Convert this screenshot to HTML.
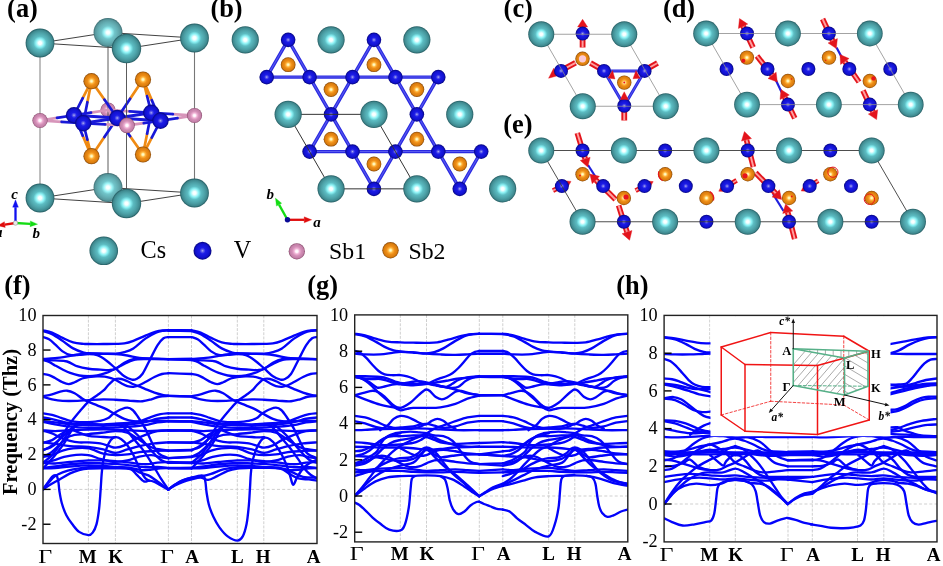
<!DOCTYPE html>
<html><head><meta charset="utf-8"><title>Figure</title>
<style>html,body{margin:0;padding:0;background:#fff}svg{display:block;will-change:transform}text{font-family:"Liberation Serif",serif;fill:#000}</style></head><body>
<svg width="943" height="566" viewBox="0 0 943 566">
<rect width="943" height="566" fill="#fff"/>

<defs>
<radialGradient id="gCs" cx="50%" cy="50%" r="50%" fx="50%" fy="50%">
<stop offset="0" stop-color="#ffffff"/><stop offset="0.11" stop-color="#f6ffff"/>
<stop offset="0.29" stop-color="#8cf2f5"/><stop offset="0.46" stop-color="#5cbcc2"/>
<stop offset="0.72" stop-color="#4ca0a6"/><stop offset="0.89" stop-color="#3f898f"/><stop offset="1" stop-color="#235a60"/>
</radialGradient>
<radialGradient id="gV" cx="50%" cy="50%" r="50%">
<stop offset="0" stop-color="#b4b4f0"/><stop offset="0.14" stop-color="#6262ea"/>
<stop offset="0.34" stop-color="#1c1ce6"/><stop offset="0.76" stop-color="#1111d0"/>
<stop offset="1" stop-color="#06067c"/>
</radialGradient>
<radialGradient id="gS1" cx="50%" cy="50%" r="50%">
<stop offset="0" stop-color="#ffffff"/><stop offset="0.16" stop-color="#fff4fb"/>
<stop offset="0.34" stop-color="#f0b2d5"/><stop offset="0.56" stop-color="#d490b8"/>
<stop offset="0.85" stop-color="#c27fa7"/><stop offset="1" stop-color="#834466"/>
</radialGradient>
<radialGradient id="gS2" cx="50%" cy="50%" r="50%">
<stop offset="0" stop-color="#fffce4"/><stop offset="0.14" stop-color="#fff0a6"/>
<stop offset="0.3" stop-color="#ffb43e"/><stop offset="0.5" stop-color="#ee8e18"/>
<stop offset="0.82" stop-color="#da7c0c"/><stop offset="1" stop-color="#84460a"/>
</radialGradient>
</defs>

<polygon points="108,32.5 40,43 126.5,48.5 194.5,38" fill="none" stroke="#2c2c2c" stroke-width="0.9" />
<polygon points="108,187.5 40,198 126.5,203.5 194.5,193" fill="none" stroke="#2c2c2c" stroke-width="0.9" />
<line x1="40" y1="43" x2="40" y2="198" stroke="#8a8a8a" stroke-width="1.1" />
<line x1="194.5" y1="38" x2="194.5" y2="193" stroke="#777" stroke-width="1.1" />
<circle cx="108" cy="32.5" r="14.4" fill="url(#gCs)"/>
<circle cx="108" cy="187.5" r="14.4" fill="url(#gCs)"/>
<circle cx="108" cy="32.5" r="14.4" fill="#fff" opacity="0.13"/><circle cx="108" cy="187.5" r="14.4" fill="#fff" opacity="0.13"/>
<circle cx="108" cy="110" r="7.6" fill="url(#gS1)"/>
<line x1="108" y1="46.5" x2="108" y2="173.5" stroke="#4a4a4a" stroke-width="0.9" />
<line x1="91.5" y1="156.19" x2="82.75" y2="135.72" stroke="#ef8a12" stroke-width="2.7" stroke-linecap="round"/>
<line x1="82.75" y1="135.72" x2="74" y2="115.25" stroke="#1818d8" stroke-width="2.7" stroke-linecap="round"/>
<line x1="91.5" y1="156.19" x2="104.38" y2="137.09" stroke="#ef8a12" stroke-width="2.7" stroke-linecap="round"/>
<line x1="104.38" y1="137.09" x2="117.25" y2="118" stroke="#1818d8" stroke-width="2.7" stroke-linecap="round"/>
<line x1="91.5" y1="156.19" x2="87.38" y2="139.72" stroke="#ef8a12" stroke-width="2.7" stroke-linecap="round"/>
<line x1="87.38" y1="139.72" x2="83.25" y2="123.25" stroke="#1818d8" stroke-width="2.7" stroke-linecap="round"/>
<line x1="143" y1="154.52" x2="130.12" y2="136.26" stroke="#ef8a12" stroke-width="2.7" stroke-linecap="round"/>
<line x1="130.12" y1="136.26" x2="117.25" y2="118" stroke="#1818d8" stroke-width="2.7" stroke-linecap="round"/>
<line x1="143" y1="154.52" x2="147.12" y2="133.64" stroke="#ef8a12" stroke-width="2.7" stroke-linecap="round"/>
<line x1="147.12" y1="133.64" x2="151.25" y2="112.75" stroke="#1818d8" stroke-width="2.7" stroke-linecap="round"/>
<line x1="143" y1="154.52" x2="151.75" y2="137.64" stroke="#ef8a12" stroke-width="2.7" stroke-linecap="round"/>
<line x1="151.75" y1="137.64" x2="160.5" y2="120.75" stroke="#1818d8" stroke-width="2.7" stroke-linecap="round"/>
<line x1="108" y1="110" x2="91" y2="112.62" stroke="#d795ba" stroke-width="2.7" stroke-linecap="round"/>
<line x1="91" y1="112.62" x2="74" y2="115.25" stroke="#1818d8" stroke-width="2.7" stroke-linecap="round"/>
<line x1="108" y1="110" x2="129.62" y2="111.38" stroke="#d795ba" stroke-width="2.7" stroke-linecap="round"/>
<line x1="129.62" y1="111.38" x2="151.25" y2="112.75" stroke="#1818d8" stroke-width="2.7" stroke-linecap="round"/>
<line x1="108" y1="110" x2="112.62" y2="114" stroke="#d795ba" stroke-width="2.7" stroke-linecap="round"/>
<line x1="112.62" y1="114" x2="117.25" y2="118" stroke="#1818d8" stroke-width="2.7" stroke-linecap="round"/>
<line x1="40" y1="120.5" x2="57" y2="117.88" stroke="#d795ba" stroke-width="2.7" stroke-linecap="round"/>
<line x1="57" y1="117.88" x2="74" y2="115.25" stroke="#1818d8" stroke-width="2.7" stroke-linecap="round"/>
<line x1="40" y1="120.5" x2="61.62" y2="121.88" stroke="#d795ba" stroke-width="2.7" stroke-linecap="round"/>
<line x1="61.62" y1="121.88" x2="83.25" y2="123.25" stroke="#1818d8" stroke-width="2.7" stroke-linecap="round"/>
<line x1="194.5" y1="115.5" x2="172.88" y2="114.12" stroke="#d795ba" stroke-width="2.7" stroke-linecap="round"/>
<line x1="172.88" y1="114.12" x2="151.25" y2="112.75" stroke="#1818d8" stroke-width="2.7" stroke-linecap="round"/>
<line x1="194.5" y1="115.5" x2="177.5" y2="118.12" stroke="#d795ba" stroke-width="2.7" stroke-linecap="round"/>
<line x1="177.5" y1="118.12" x2="160.5" y2="120.75" stroke="#1818d8" stroke-width="2.7" stroke-linecap="round"/>
<line x1="127" y1="125.4" x2="105.12" y2="124.33" stroke="#d795ba" stroke-width="2.7" stroke-linecap="round"/>
<line x1="105.12" y1="124.33" x2="83.25" y2="123.25" stroke="#1818d8" stroke-width="2.7" stroke-linecap="round"/>
<line x1="127" y1="125.4" x2="143.75" y2="123.08" stroke="#d795ba" stroke-width="2.7" stroke-linecap="round"/>
<line x1="143.75" y1="123.08" x2="160.5" y2="120.75" stroke="#1818d8" stroke-width="2.7" stroke-linecap="round"/>
<line x1="127" y1="125.4" x2="122.12" y2="121.7" stroke="#d795ba" stroke-width="2.7" stroke-linecap="round"/>
<line x1="122.12" y1="121.7" x2="117.25" y2="118" stroke="#1818d8" stroke-width="2.7" stroke-linecap="round"/>
<line x1="117.25" y1="118" x2="74" y2="115.25" stroke="#1818d8" stroke-width="3" stroke-linecap="round"/>
<line x1="117.25" y1="118" x2="151.25" y2="112.75" stroke="#1818d8" stroke-width="3" stroke-linecap="round"/>
<line x1="117.25" y1="118" x2="83.25" y2="123.25" stroke="#1818d8" stroke-width="3" stroke-linecap="round"/>
<line x1="117.25" y1="118" x2="160.5" y2="120.75" stroke="#1818d8" stroke-width="3" stroke-linecap="round"/>
<line x1="74" y1="115.25" x2="83.25" y2="123.25" stroke="#1818d8" stroke-width="3" stroke-linecap="round"/>
<line x1="151.25" y1="112.75" x2="160.5" y2="120.75" stroke="#1818d8" stroke-width="3" stroke-linecap="round"/>
<line x1="91.5" y1="81.17" x2="82.75" y2="98.21" stroke="#ef8a12" stroke-width="2.7" stroke-linecap="round"/>
<line x1="82.75" y1="98.21" x2="74" y2="115.25" stroke="#1818d8" stroke-width="2.7" stroke-linecap="round"/>
<line x1="91.5" y1="81.17" x2="104.38" y2="99.58" stroke="#ef8a12" stroke-width="2.7" stroke-linecap="round"/>
<line x1="104.38" y1="99.58" x2="117.25" y2="118" stroke="#1818d8" stroke-width="2.7" stroke-linecap="round"/>
<line x1="91.5" y1="81.17" x2="87.38" y2="102.21" stroke="#ef8a12" stroke-width="2.7" stroke-linecap="round"/>
<line x1="87.38" y1="102.21" x2="83.25" y2="123.25" stroke="#1818d8" stroke-width="2.7" stroke-linecap="round"/>
<line x1="143" y1="79.5" x2="130.12" y2="98.75" stroke="#ef8a12" stroke-width="2.7" stroke-linecap="round"/>
<line x1="130.12" y1="98.75" x2="117.25" y2="118" stroke="#1818d8" stroke-width="2.7" stroke-linecap="round"/>
<line x1="143" y1="79.5" x2="147.12" y2="96.13" stroke="#ef8a12" stroke-width="2.7" stroke-linecap="round"/>
<line x1="147.12" y1="96.13" x2="151.25" y2="112.75" stroke="#1818d8" stroke-width="2.7" stroke-linecap="round"/>
<line x1="143" y1="79.5" x2="151.75" y2="100.13" stroke="#ef8a12" stroke-width="2.7" stroke-linecap="round"/>
<line x1="151.75" y1="100.13" x2="160.5" y2="120.75" stroke="#1818d8" stroke-width="2.7" stroke-linecap="round"/>
<circle cx="151.25" cy="112.75" r="8.2" fill="url(#gV)"/>
<circle cx="74" cy="115.25" r="8.2" fill="url(#gV)"/>
<circle cx="117.25" cy="118" r="8.2" fill="url(#gV)"/>
<circle cx="160.5" cy="120.75" r="8.2" fill="url(#gV)"/>
<circle cx="83.25" cy="123.25" r="8.2" fill="url(#gV)"/>
<circle cx="91.5" cy="81.17" r="8.1" fill="url(#gS2)"/>
<circle cx="91.5" cy="156.19" r="8.1" fill="url(#gS2)"/>
<circle cx="143" cy="79.5" r="8.1" fill="url(#gS2)"/>
<circle cx="143" cy="154.52" r="8.1" fill="url(#gS2)"/>
<circle cx="40" cy="120.5" r="7.6" fill="url(#gS1)"/>
<circle cx="194.5" cy="115.5" r="7.6" fill="url(#gS1)"/>
<line x1="126.5" y1="48.5" x2="126.5" y2="203.5" stroke="#4a4a4a" stroke-width="0.9" />
<circle cx="127" cy="125.4" r="7.8" fill="url(#gS1)"/>
<circle cx="40" cy="43" r="14.4" fill="url(#gCs)"/>
<circle cx="194.5" cy="38" r="14.4" fill="url(#gCs)"/>
<circle cx="40" cy="198" r="14.4" fill="url(#gCs)"/>
<circle cx="194.5" cy="193" r="14.4" fill="url(#gCs)"/>
<circle cx="126.5" cy="48.5" r="14.7" fill="url(#gCs)"/>
<circle cx="126.5" cy="203.5" r="14.7" fill="url(#gCs)"/>
<line x1="15.5" y1="223" x2="15.5" y2="207.2" stroke="#1010f0" stroke-width="2.3" />
<polygon points="15.5,199.8 18.4,207.2 12.6,207.2" fill="#1010f0" stroke="#1010f0" stroke-width="0.3" />
<line x1="15.5" y1="223" x2="30.21" y2="223.8" stroke="#14dc14" stroke-width="2.3" />
<polygon points="37.6,224.2 30.05,226.69 30.37,220.9" fill="#14dc14" stroke="#14dc14" stroke-width="0.3" />
<line x1="15.5" y1="223" x2="4.82" y2="224.54" stroke="#e00c0c" stroke-width="2.3" />
<polygon points="-2.5,225.6 4.41,221.67 5.24,227.41" fill="#e00c0c" stroke="#e00c0c" stroke-width="0.3" />
<circle cx="15.5" cy="223" r="2.3" fill="#e8e8e8" stroke="#888" stroke-width="0.5"/>
<text x="11.2" y="198.8" font-size="15" font-weight="bold" font-style="italic" text-anchor="start" >c</text>
<text x="32.6" y="238" font-size="15" font-weight="bold" font-style="italic" text-anchor="start" >b</text>
<text x="-4.9" y="237.2" font-size="15" font-weight="bold" font-style="italic" text-anchor="start" >a</text>
<line x1="266.7" y1="77.1" x2="438.3" y2="77.1" stroke="#2a2ae2" stroke-width="3.4" stroke-linecap="round"/>
<line x1="266.7" y1="77.1" x2="438.3" y2="77.1" stroke="#5a5aee" stroke-width="1.02" />
<line x1="309.6" y1="151.6" x2="481.2" y2="151.6" stroke="#2a2ae2" stroke-width="3.4" stroke-linecap="round"/>
<line x1="309.6" y1="151.6" x2="481.2" y2="151.6" stroke="#5a5aee" stroke-width="1.02" />
<line x1="288.15" y1="39.85" x2="266.7" y2="77.1" stroke="#2a2ae2" stroke-width="3.4" stroke-linecap="round"/>
<line x1="288.15" y1="39.85" x2="266.7" y2="77.1" stroke="#5a5aee" stroke-width="1.02" />
<line x1="288.15" y1="39.85" x2="309.6" y2="77.1" stroke="#2a2ae2" stroke-width="3.4" stroke-linecap="round"/>
<line x1="288.15" y1="39.85" x2="309.6" y2="77.1" stroke="#5a5aee" stroke-width="1.02" />
<line x1="331.05" y1="114.35" x2="309.6" y2="77.1" stroke="#2a2ae2" stroke-width="3.4" stroke-linecap="round"/>
<line x1="331.05" y1="114.35" x2="309.6" y2="77.1" stroke="#5a5aee" stroke-width="1.02" />
<line x1="331.05" y1="114.35" x2="352.5" y2="77.1" stroke="#2a2ae2" stroke-width="3.4" stroke-linecap="round"/>
<line x1="331.05" y1="114.35" x2="352.5" y2="77.1" stroke="#5a5aee" stroke-width="1.02" />
<line x1="331.05" y1="114.35" x2="309.6" y2="151.6" stroke="#2a2ae2" stroke-width="3.4" stroke-linecap="round"/>
<line x1="331.05" y1="114.35" x2="309.6" y2="151.6" stroke="#5a5aee" stroke-width="1.02" />
<line x1="331.05" y1="114.35" x2="352.5" y2="151.6" stroke="#2a2ae2" stroke-width="3.4" stroke-linecap="round"/>
<line x1="331.05" y1="114.35" x2="352.5" y2="151.6" stroke="#5a5aee" stroke-width="1.02" />
<line x1="373.95" y1="188.85" x2="352.5" y2="151.6" stroke="#2a2ae2" stroke-width="3.4" stroke-linecap="round"/>
<line x1="373.95" y1="188.85" x2="352.5" y2="151.6" stroke="#5a5aee" stroke-width="1.02" />
<line x1="373.95" y1="188.85" x2="395.4" y2="151.6" stroke="#2a2ae2" stroke-width="3.4" stroke-linecap="round"/>
<line x1="373.95" y1="188.85" x2="395.4" y2="151.6" stroke="#5a5aee" stroke-width="1.02" />
<line x1="373.95" y1="39.85" x2="352.5" y2="77.1" stroke="#2a2ae2" stroke-width="3.4" stroke-linecap="round"/>
<line x1="373.95" y1="39.85" x2="352.5" y2="77.1" stroke="#5a5aee" stroke-width="1.02" />
<line x1="373.95" y1="39.85" x2="395.4" y2="77.1" stroke="#2a2ae2" stroke-width="3.4" stroke-linecap="round"/>
<line x1="373.95" y1="39.85" x2="395.4" y2="77.1" stroke="#5a5aee" stroke-width="1.02" />
<line x1="416.85" y1="114.35" x2="395.4" y2="77.1" stroke="#2a2ae2" stroke-width="3.4" stroke-linecap="round"/>
<line x1="416.85" y1="114.35" x2="395.4" y2="77.1" stroke="#5a5aee" stroke-width="1.02" />
<line x1="416.85" y1="114.35" x2="438.3" y2="77.1" stroke="#2a2ae2" stroke-width="3.4" stroke-linecap="round"/>
<line x1="416.85" y1="114.35" x2="438.3" y2="77.1" stroke="#5a5aee" stroke-width="1.02" />
<line x1="416.85" y1="114.35" x2="395.4" y2="151.6" stroke="#2a2ae2" stroke-width="3.4" stroke-linecap="round"/>
<line x1="416.85" y1="114.35" x2="395.4" y2="151.6" stroke="#5a5aee" stroke-width="1.02" />
<line x1="416.85" y1="114.35" x2="438.3" y2="151.6" stroke="#2a2ae2" stroke-width="3.4" stroke-linecap="round"/>
<line x1="416.85" y1="114.35" x2="438.3" y2="151.6" stroke="#5a5aee" stroke-width="1.02" />
<line x1="459.75" y1="188.85" x2="438.3" y2="151.6" stroke="#2a2ae2" stroke-width="3.4" stroke-linecap="round"/>
<line x1="459.75" y1="188.85" x2="438.3" y2="151.6" stroke="#5a5aee" stroke-width="1.02" />
<line x1="459.75" y1="188.85" x2="481.2" y2="151.6" stroke="#2a2ae2" stroke-width="3.4" stroke-linecap="round"/>
<line x1="459.75" y1="188.85" x2="481.2" y2="151.6" stroke="#5a5aee" stroke-width="1.02" />
<circle cx="288.15" cy="64.68" r="7.4" fill="url(#gS2)"/>
<circle cx="331.05" cy="89.52" r="7.4" fill="url(#gS2)"/>
<circle cx="331.05" cy="139.18" r="7.4" fill="url(#gS2)"/>
<circle cx="373.95" cy="164.02" r="7.4" fill="url(#gS2)"/>
<circle cx="373.95" cy="64.68" r="7.4" fill="url(#gS2)"/>
<circle cx="416.85" cy="89.52" r="7.4" fill="url(#gS2)"/>
<circle cx="416.85" cy="139.18" r="7.4" fill="url(#gS2)"/>
<circle cx="459.75" cy="164.02" r="7.4" fill="url(#gS2)"/>
<circle cx="288.15" cy="39.85" r="7.3" fill="url(#gV)"/>
<circle cx="373.95" cy="39.85" r="7.3" fill="url(#gV)"/>
<circle cx="331.05" cy="114.35" r="7.3" fill="url(#gV)"/>
<circle cx="416.85" cy="114.35" r="7.3" fill="url(#gV)"/>
<circle cx="373.95" cy="188.85" r="7.3" fill="url(#gV)"/>
<circle cx="459.75" cy="188.85" r="7.3" fill="url(#gV)"/>
<circle cx="266.7" cy="77.1" r="7.3" fill="url(#gV)"/>
<circle cx="309.6" cy="77.1" r="7.3" fill="url(#gV)"/>
<circle cx="352.5" cy="77.1" r="7.3" fill="url(#gV)"/>
<circle cx="395.4" cy="77.1" r="7.3" fill="url(#gV)"/>
<circle cx="438.3" cy="77.1" r="7.3" fill="url(#gV)"/>
<circle cx="309.6" cy="151.6" r="7.3" fill="url(#gV)"/>
<circle cx="352.5" cy="151.6" r="7.3" fill="url(#gV)"/>
<circle cx="395.4" cy="151.6" r="7.3" fill="url(#gV)"/>
<circle cx="438.3" cy="151.6" r="7.3" fill="url(#gV)"/>
<circle cx="481.2" cy="151.6" r="7.3" fill="url(#gV)"/>
<polygon points="288.15,114.35 373.95,114.35 416.85,188.85 331.05,188.85" fill="none" stroke="#333" stroke-width="1" />
<circle cx="245.25" cy="39.85" r="13.6" fill="url(#gCs)"/>
<circle cx="331.05" cy="39.85" r="13.6" fill="url(#gCs)"/>
<circle cx="416.85" cy="39.85" r="13.6" fill="url(#gCs)"/>
<circle cx="288.15" cy="114.35" r="13.6" fill="url(#gCs)"/>
<circle cx="373.95" cy="114.35" r="13.6" fill="url(#gCs)"/>
<circle cx="459.75" cy="114.35" r="13.6" fill="url(#gCs)"/>
<circle cx="331.05" cy="188.85" r="13.6" fill="url(#gCs)"/>
<circle cx="416.85" cy="188.85" r="13.6" fill="url(#gCs)"/>
<circle cx="502.65" cy="188.85" r="13.6" fill="url(#gCs)"/>
<line x1="287.5" y1="219.8" x2="304.2" y2="219.8" stroke="#e00c0c" stroke-width="2.3" />
<polygon points="311.7,219.8 304.2,222.8 304.2,216.8" fill="#e00c0c" stroke="#e00c0c" stroke-width="0.3" />
<line x1="287.5" y1="219.8" x2="279.05" y2="204.65" stroke="#14dc14" stroke-width="2.3" />
<polygon points="275.4,198.1 281.67,203.19 276.43,206.11" fill="#14dc14" stroke="#14dc14" stroke-width="0.3" />
<circle cx="287.5" cy="219.8" r="2.7" fill="#0a0a96"/>
<text x="313.3" y="226.6" font-size="15" font-weight="bold" font-style="italic" text-anchor="start" >a</text>
<text x="266.6" y="198.6" font-size="15" font-weight="bold" font-style="italic" text-anchor="start" >b</text>
<line x1="604" y1="70.9" x2="644.6" y2="70.9" stroke="#2a2ae2" stroke-width="3" stroke-linecap="round"/>
<line x1="604" y1="70.9" x2="644.6" y2="70.9" stroke="#5a5aee" stroke-width="0.9" />
<line x1="604" y1="70.9" x2="624.25" y2="105.8" stroke="#2a2ae2" stroke-width="3" stroke-linecap="round"/>
<line x1="604" y1="70.9" x2="624.25" y2="105.8" stroke="#5a5aee" stroke-width="0.9" />
<line x1="644.6" y1="70.9" x2="624.25" y2="105.8" stroke="#2a2ae2" stroke-width="3" stroke-linecap="round"/>
<line x1="644.6" y1="70.9" x2="624.25" y2="105.8" stroke="#5a5aee" stroke-width="0.9" />
<line x1="582.6" y1="47.5" x2="582.6" y2="36" stroke="#e3141c" stroke-width="5.8" />
<line x1="582.6" y1="47.5" x2="582.6" y2="36" stroke="#ffa0a0" stroke-width="1.97" />
<polygon points="582.6,19.3 587.6,27 577.6,27" fill="#e3141c" stroke="#e3141c" stroke-width="0.4" stroke-linejoin="round"/>
<line x1="575.5" y1="62.8" x2="563" y2="69.5" stroke="#e3141c" stroke-width="5.8" />
<line x1="575.5" y1="62.8" x2="563" y2="69.5" stroke="#ffa0a0" stroke-width="1.97" />
<polygon points="548.6,78.2 553.67,68.3 559.33,75.3" fill="#e3141c" stroke="#e3141c" stroke-width="0.4" stroke-linejoin="round"/>
<line x1="590.5" y1="63" x2="602" y2="69.5" stroke="#e3141c" stroke-width="5.8" />
<line x1="590.5" y1="63" x2="602" y2="69.5" stroke="#ffa0a0" stroke-width="1.97" />
<line x1="657.5" y1="63" x2="646" y2="69.5" stroke="#e3141c" stroke-width="5.8" />
<line x1="657.5" y1="63" x2="646" y2="69.5" stroke="#ffa0a0" stroke-width="1.97" />
<line x1="624.25" y1="120.5" x2="624.25" y2="108" stroke="#e3141c" stroke-width="5.8" />
<line x1="624.25" y1="120.5" x2="624.25" y2="108" stroke="#ffa0a0" stroke-width="1.97" />
<circle cx="582.5" cy="58.8" r="7.2" fill="url(#gS2)"/>
<circle cx="582.5" cy="58.8" r="3.6" fill="#fbc9d6"/>
<circle cx="624.25" cy="82.6" r="7.2" fill="url(#gS2)"/>
<circle cx="624.25" cy="82.6" r="1" fill="#e8141c"/>
<circle cx="582.6" cy="33.6" r="7" fill="url(#gV)"/>
<circle cx="561" cy="70.9" r="7" fill="url(#gV)"/>
<circle cx="604" cy="70.9" r="7" fill="url(#gV)"/>
<circle cx="644.6" cy="70.9" r="7" fill="url(#gV)"/>
<circle cx="624.25" cy="105.8" r="7" fill="url(#gV)"/>
<polygon points="541.25,34.25 624.25,34.25 665.75,106.25 582.75,106.25" fill="none" stroke="#8c8c8c" stroke-width="0.8" />
<polygon points="612.5,70.5 614.97,78.93 608.03,78.07" fill="#e3141c" stroke="#e3141c" stroke-width="0.4" stroke-linejoin="round"/>
<polygon points="636,70.5 639.99,78.28 633.01,78.72" fill="#e3141c" stroke="#e3141c" stroke-width="0.4" stroke-linejoin="round"/>
<polygon points="624.25,91.8 628.25,99.5 620.25,99.5" fill="#e3141c" stroke="#e3141c" stroke-width="0.4" stroke-linejoin="round"/>
<circle cx="541.25" cy="34.25" r="13" fill="url(#gCs)"/>
<circle cx="624.25" cy="34.25" r="13" fill="url(#gCs)"/>
<circle cx="665.75" cy="106.25" r="13" fill="url(#gCs)"/>
<circle cx="582.75" cy="106.25" r="13" fill="url(#gCs)"/>
<line x1="776" y1="80.5" x2="782.5" y2="94" stroke="#2020dd" stroke-width="2.2" />
<line x1="836.5" y1="47.5" x2="843" y2="59.5" stroke="#2020dd" stroke-width="2.2" />
<line x1="753" y1="47.5" x2="743.1" y2="26.3" stroke="#e3141c" stroke-width="5.6" />
<line x1="753" y1="47.5" x2="743.1" y2="26.3" stroke="#ffa0a0" stroke-width="1.9" />
<polygon points="739.5,18.6 747.76,24.12 738.43,28.48" fill="#e3141c" stroke="#e3141c" stroke-width="0.4" stroke-linejoin="round"/>
<line x1="757" y1="56" x2="772.07" y2="75.3" stroke="#e3141c" stroke-width="5.6" />
<line x1="757" y1="56" x2="772.07" y2="75.3" stroke="#ffa0a0" stroke-width="1.9" />
<polygon points="777.3,82 768.01,78.47 776.13,72.13" fill="#e3141c" stroke="#e3141c" stroke-width="0.4" stroke-linejoin="round"/>
<line x1="794.8" y1="118.3" x2="784.68" y2="97.26" stroke="#e3141c" stroke-width="5.6" />
<line x1="794.8" y1="118.3" x2="784.68" y2="97.26" stroke="#ffa0a0" stroke-width="1.9" />
<polygon points="781,89.6 789.32,95.03 780.04,99.49" fill="#e3141c" stroke="#e3141c" stroke-width="0.4" stroke-linejoin="round"/>
<line x1="822.6" y1="19" x2="832.72" y2="40.79" stroke="#e3141c" stroke-width="5.6" />
<line x1="822.6" y1="19" x2="832.72" y2="40.79" stroke="#ffa0a0" stroke-width="1.9" />
<polygon points="836.3,48.5 828.05,42.96 837.39,38.62" fill="#e3141c" stroke="#e3141c" stroke-width="0.4" stroke-linejoin="round"/>
<line x1="859" y1="82" x2="844.83" y2="61.49" stroke="#e3141c" stroke-width="5.6" />
<line x1="859" y1="82" x2="844.83" y2="61.49" stroke="#ffa0a0" stroke-width="1.9" />
<polygon points="840,54.5 849.07,58.57 840.59,64.42" fill="#e3141c" stroke="#e3141c" stroke-width="0.4" stroke-linejoin="round"/>
<line x1="863" y1="90.5" x2="873" y2="111.9" stroke="#e3141c" stroke-width="5.6" />
<line x1="863" y1="90.5" x2="873" y2="111.9" stroke="#ffa0a0" stroke-width="1.9" />
<polygon points="876.6,119.6 868.34,114.08 877.67,109.72" fill="#e3141c" stroke="#e3141c" stroke-width="0.4" stroke-linejoin="round"/>
<circle cx="746.9" cy="57.6" r="7.2" fill="url(#gS2)"/>
<circle cx="743.3" cy="60.8" r="2" fill="#e8141c"/>
<circle cx="787.9" cy="81" r="7.2" fill="url(#gS2)"/>
<circle cx="791.5" cy="79" r="0.8" fill="#e8141c"/>
<circle cx="829" cy="57.6" r="7.2" fill="url(#gS2)"/>
<circle cx="825.7" cy="60.2" r="0.7" fill="#e8141c"/>
<circle cx="869.8" cy="81" r="7.2" fill="url(#gS2)"/>
<circle cx="873.5" cy="78.4" r="2.2" fill="#e8141c"/>
<circle cx="747.02" cy="33.5" r="7" fill="url(#gV)"/>
<circle cx="828.88" cy="33.5" r="7" fill="url(#gV)"/>
<circle cx="726.56" cy="69.05" r="7" fill="url(#gV)"/>
<circle cx="767.49" cy="69.05" r="7" fill="url(#gV)"/>
<circle cx="808.41" cy="69.05" r="7" fill="url(#gV)"/>
<circle cx="849.34" cy="69.05" r="7" fill="url(#gV)"/>
<circle cx="890.26" cy="69.05" r="7" fill="url(#gV)"/>
<circle cx="787.95" cy="104.6" r="7" fill="url(#gV)"/>
<circle cx="869.8" cy="104.6" r="7" fill="url(#gV)"/>
<polygon points="706.1,33.5 869.8,33.5 910.73,104.6 747.02,104.6" fill="none" stroke="#8c8c8c" stroke-width="0.8" />
<circle cx="706.1" cy="33.5" r="12.9" fill="url(#gCs)"/>
<circle cx="747.02" cy="104.6" r="12.9" fill="url(#gCs)"/>
<circle cx="787.95" cy="33.5" r="12.9" fill="url(#gCs)"/>
<circle cx="828.88" cy="104.6" r="12.9" fill="url(#gCs)"/>
<circle cx="869.8" cy="33.5" r="12.9" fill="url(#gCs)"/>
<circle cx="910.72" cy="104.6" r="12.9" fill="url(#gCs)"/>
<line x1="588" y1="165" x2="598.5" y2="181.5" stroke="#2020dd" stroke-width="2.2" />
<line x1="773" y1="194" x2="783.5" y2="211" stroke="#2020dd" stroke-width="2.2" />
<line x1="577.3" y1="133" x2="585.21" y2="158.87" stroke="#e3141c" stroke-width="5.6" />
<line x1="577.3" y1="133" x2="585.21" y2="158.87" stroke="#ffa0a0" stroke-width="1.9" />
<polygon points="587.7,167 580.29,160.38 590.14,157.37" fill="#e3141c" stroke="#e3141c" stroke-width="0.4" stroke-linejoin="round"/>
<line x1="615.5" y1="199.5" x2="595.83" y2="179.99" stroke="#e3141c" stroke-width="5.6" />
<line x1="615.5" y1="199.5" x2="595.83" y2="179.99" stroke="#ffa0a0" stroke-width="1.9" />
<polygon points="589.8,174 599.46,176.33 592.21,183.64" fill="#e3141c" stroke="#e3141c" stroke-width="0.4" stroke-linejoin="round"/>
<line x1="618.6" y1="205.5" x2="627.03" y2="232.1" stroke="#e3141c" stroke-width="5.6" />
<line x1="618.6" y1="205.5" x2="627.03" y2="232.1" stroke="#ffa0a0" stroke-width="1.9" />
<polygon points="629.6,240.2 622.12,233.65 631.94,230.54" fill="#e3141c" stroke="#e3141c" stroke-width="0.4" stroke-linejoin="round"/>
<line x1="753.4" y1="167" x2="746.49" y2="139.84" stroke="#e3141c" stroke-width="5.6" />
<line x1="753.4" y1="167" x2="746.49" y2="139.84" stroke="#ffa0a0" stroke-width="1.9" />
<polygon points="744.4,131.6 751.49,138.57 741.5,141.11" fill="#e3141c" stroke="#e3141c" stroke-width="0.4" stroke-linejoin="round"/>
<line x1="755.6" y1="172.8" x2="775.76" y2="193.42" stroke="#e3141c" stroke-width="5.6" />
<line x1="755.6" y1="172.8" x2="775.76" y2="193.42" stroke="#ffa0a0" stroke-width="1.9" />
<polygon points="781.7,199.5 772.08,197.02 779.44,189.82" fill="#e3141c" stroke="#e3141c" stroke-width="0.4" stroke-linejoin="round"/>
<line x1="794.7" y1="239" x2="787.74" y2="212.23" stroke="#e3141c" stroke-width="5.6" />
<line x1="794.7" y1="239" x2="787.74" y2="212.23" stroke="#ffa0a0" stroke-width="1.9" />
<polygon points="785.6,204 792.72,210.93 782.75,213.52" fill="#e3141c" stroke="#e3141c" stroke-width="0.4" stroke-linejoin="round"/>
<line x1="553" y1="190.6" x2="566.1" y2="183.9" stroke="#e3141c" stroke-width="4.8" />
<line x1="553" y1="190.6" x2="566.1" y2="183.9" stroke="#ffa0a0" stroke-width="1.63" />
<polygon points="571,181.4 567.74,187.11 564.46,180.7" fill="#e3141c" stroke="#e3141c" stroke-width="0.4" stroke-linejoin="round"/>
<line x1="635.6" y1="190.6" x2="648.3" y2="184.1" stroke="#e3141c" stroke-width="4.8" />
<line x1="635.6" y1="190.6" x2="648.3" y2="184.1" stroke="#ffa0a0" stroke-width="1.63" />
<polygon points="653.2,181.6 649.94,187.31 646.66,180.9" fill="#e3141c" stroke="#e3141c" stroke-width="0.4" stroke-linejoin="round"/>
<line x1="736.6" y1="180.4" x2="723.5" y2="188.35" stroke="#e3141c" stroke-width="4.8" />
<line x1="736.6" y1="180.4" x2="723.5" y2="188.35" stroke="#ffa0a0" stroke-width="1.63" />
<polygon points="718.8,191.2 721.63,185.27 725.37,191.42" fill="#e3141c" stroke="#e3141c" stroke-width="0.4" stroke-linejoin="round"/>
<line x1="818.2" y1="180.8" x2="805.92" y2="188.17" stroke="#e3141c" stroke-width="4.8" />
<line x1="818.2" y1="180.8" x2="805.92" y2="188.17" stroke="#ffa0a0" stroke-width="1.63" />
<polygon points="801.2,191 804.06,185.08 807.77,191.26" fill="#e3141c" stroke="#e3141c" stroke-width="0.4" stroke-linejoin="round"/>
<circle cx="582.55" cy="174.25" r="7.2" fill="url(#gS2)"/>
<circle cx="665.15" cy="174.25" r="7.2" fill="url(#gS2)"/>
<circle cx="747.75" cy="174.25" r="7.2" fill="url(#gS2)"/>
<circle cx="830.35" cy="174.25" r="7.2" fill="url(#gS2)"/>
<circle cx="623.85" cy="198" r="7.2" fill="url(#gS2)"/>
<circle cx="706.45" cy="198" r="7.2" fill="url(#gS2)"/>
<circle cx="789.05" cy="198" r="7.2" fill="url(#gS2)"/>
<circle cx="871.65" cy="198" r="7.2" fill="url(#gS2)"/>
<circle cx="580" cy="175.5" r="1" fill="#e8141c"/>
<circle cx="626" cy="197" r="2.6" fill="#e8141c"/>
<circle cx="745" cy="175.8" r="2.6" fill="#e8141c"/>
<circle cx="791.8" cy="196.5" r="0.9" fill="#e8141c"/>
<circle cx="832.9" cy="172.2" r="5.1" fill="none" stroke="#e8141c" stroke-width="1"/>
<circle cx="869.4" cy="199.2" r="5.2" fill="none" stroke="#e8141c" stroke-width="1"/>
<path d="M658.9,171.5 A7.4,7.4 0 0 0 662.6,180.6" fill="none" stroke="#e8141c" stroke-width="1.3"/>
<path d="M709.8,191.6 A7.4,7.4 0 0 1 713.4,200.5" fill="none" stroke="#e8141c" stroke-width="1.3"/>
<circle cx="582.55" cy="150.5" r="7" fill="url(#gV)"/>
<circle cx="665.15" cy="150.5" r="7" fill="url(#gV)"/>
<circle cx="747.75" cy="150.5" r="7" fill="url(#gV)"/>
<circle cx="830.35" cy="150.5" r="7" fill="url(#gV)"/>
<circle cx="561.9" cy="186.12" r="7" fill="url(#gV)"/>
<circle cx="603.2" cy="186.12" r="7" fill="url(#gV)"/>
<circle cx="644.5" cy="186.12" r="7" fill="url(#gV)"/>
<circle cx="685.8" cy="186.12" r="7" fill="url(#gV)"/>
<circle cx="727.1" cy="186.12" r="7" fill="url(#gV)"/>
<circle cx="768.4" cy="186.12" r="7" fill="url(#gV)"/>
<circle cx="809.7" cy="186.12" r="7" fill="url(#gV)"/>
<circle cx="851" cy="186.12" r="7" fill="url(#gV)"/>
<circle cx="623.85" cy="221.75" r="7" fill="url(#gV)"/>
<circle cx="706.45" cy="221.75" r="7" fill="url(#gV)"/>
<circle cx="789.05" cy="221.75" r="7" fill="url(#gV)"/>
<circle cx="871.65" cy="221.75" r="7" fill="url(#gV)"/>
<polygon points="541.25,150.5 871.65,150.5 912.95,221.75 582.55,221.75" fill="none" stroke="#3a3a3a" stroke-width="0.9" />
<circle cx="541.25" cy="150.5" r="13" fill="url(#gCs)"/>
<circle cx="582.55" cy="221.75" r="13" fill="url(#gCs)"/>
<circle cx="623.85" cy="150.5" r="13" fill="url(#gCs)"/>
<circle cx="665.15" cy="221.75" r="13" fill="url(#gCs)"/>
<circle cx="706.45" cy="150.5" r="13" fill="url(#gCs)"/>
<circle cx="747.75" cy="221.75" r="13" fill="url(#gCs)"/>
<circle cx="789.05" cy="150.5" r="13" fill="url(#gCs)"/>
<circle cx="830.35" cy="221.75" r="13" fill="url(#gCs)"/>
<circle cx="871.65" cy="150.5" r="13" fill="url(#gCs)"/>
<circle cx="912.95" cy="221.75" r="13" fill="url(#gCs)"/>
<circle cx="103.75" cy="250.8" r="14.3" fill="url(#gCs)"/>
<text x="140.6" y="258.4" font-size="24.2" font-weight="normal" font-style="normal" text-anchor="start" >Cs</text>
<circle cx="202.5" cy="250.75" r="9" fill="url(#gV)"/>
<text x="233.8" y="258.4" font-size="24.2" font-weight="normal" font-style="normal" text-anchor="start" >V</text>
<circle cx="296.8" cy="251.3" r="8.1" fill="url(#gS1)"/>
<text x="329" y="258.5" font-size="23.8" font-weight="normal" font-style="normal" text-anchor="start" >Sb1</text>
<circle cx="390.5" cy="250.3" r="8.2" fill="url(#gS2)"/>
<text x="408.4" y="258.5" font-size="23.8" font-weight="normal" font-style="normal" text-anchor="start" >Sb2</text>
<text x="7.1" y="17" font-size="26.4" font-weight="bold" font-style="normal" text-anchor="start" >(a)</text>
<text x="210.4" y="17" font-size="26.4" font-weight="bold" font-style="normal" text-anchor="start" >(b)</text>
<text x="503.6" y="17" font-size="26.4" font-weight="bold" font-style="normal" text-anchor="start" >(c)</text>
<text x="662.9" y="17" font-size="26.4" font-weight="bold" font-style="normal" text-anchor="start" >(d)</text>
<text x="503.2" y="132.6" font-size="26.4" font-weight="bold" font-style="normal" text-anchor="start" >(e)</text>
<text x="4.2" y="294.1" font-size="26.4" font-weight="bold" font-style="normal" text-anchor="start" >(f)</text>
<text x="307.2" y="294.1" font-size="26.4" font-weight="bold" font-style="normal" text-anchor="start" >(g)</text>
<text x="616.3" y="294.1" font-size="26.4" font-weight="bold" font-style="normal" text-anchor="start" >(h)</text>
<clipPath id="clipf"><rect x="43" y="315.5" width="274" height="228"/></clipPath>
<line x1="88.4" y1="315.5" x2="88.4" y2="543.5" stroke="#cfcfcf" stroke-width="1" stroke-dasharray="2.9,1.3"/>
<line x1="115.4" y1="315.5" x2="115.4" y2="543.5" stroke="#cfcfcf" stroke-width="1" stroke-dasharray="2.9,1.3"/>
<line x1="168.4" y1="315.5" x2="168.4" y2="543.5" stroke="#cfcfcf" stroke-width="1" stroke-dasharray="2.9,1.3"/>
<line x1="191.5" y1="315.5" x2="191.5" y2="543.5" stroke="#cfcfcf" stroke-width="1" stroke-dasharray="2.9,1.3"/>
<line x1="237.3" y1="315.5" x2="237.3" y2="543.5" stroke="#cfcfcf" stroke-width="1" stroke-dasharray="2.9,1.3"/>
<line x1="263.8" y1="315.5" x2="263.8" y2="543.5" stroke="#cfcfcf" stroke-width="1" stroke-dasharray="2.9,1.3"/>
<line x1="43" y1="489.4" x2="317" y2="489.4" stroke="#cfcfcf" stroke-width="1" stroke-dasharray="3,2.2"/>
<g clip-path="url(#clipf)" fill="none" stroke="#0303fb" stroke-width="2.35" stroke-linejoin="round" stroke-linecap="round">
<path d="M115.59,423.85C116.55,424.05 119.36,423.85 121.31,425.06C123.27,426.26 125.33,428.82 127.34,431.08C129.35,433.34 130.85,435.6 133.36,438.61C135.87,441.62 139.38,445.14 142.4,449.15C145.41,453.17 148.42,457.94 151.43,462.7C154.44,467.47 157.63,473.3 160.47,477.76C163.3,482.23 167.12,487.55 168.45,489.51"/>
<path d="M264.19,423.85C265.15,424.05 267.96,423.85 269.91,425.06C271.87,426.26 273.93,428.82 275.94,431.08C277.95,433.34 279.45,435.6 281.96,438.61C284.47,441.62 288.24,445.64 291,449.15C293.76,452.67 296.27,456.43 298.53,459.69C300.78,462.96 302.54,466.22 304.55,468.73C306.56,471.24 308.49,473.12 310.57,474.75C312.66,476.38 315.97,477.89 317.05,478.52"/>
<path d="M43.01,330.33C44.52,330.71 48.78,331.33 52.05,332.59C55.31,333.84 59.07,336.23 62.59,337.86C66.1,339.49 69.61,341.37 73.13,342.38C76.64,343.38 81.11,343.61 83.67,343.88C86.23,344.16 85.23,344.01 88.49,344.03C91.75,344.06 98.73,344.06 103.24,344.03C107.76,344.01 112.08,343.98 115.59,343.88C119.11,343.78 121.37,343.93 124.33,343.43C127.29,342.93 129.85,342.17 133.36,340.87C136.88,339.56 141.64,337.16 145.41,335.6C149.17,334.04 152.94,332.41 155.95,331.53C158.96,330.66 161.4,330.55 163.48,330.33C165.56,330.1 167.62,330.2 168.45,330.18"/>
<path d="M191.61,330.33C193.12,330.71 197.38,331.33 200.65,332.59C203.91,333.84 207.67,336.23 211.19,337.86C214.7,339.49 218.21,341.37 221.73,342.38C225.24,343.38 229.71,343.61 232.27,343.88C234.83,344.16 233.83,344.01 237.09,344.03C240.35,344.06 247.33,344.06 251.84,344.03C256.36,344.01 260.68,343.98 264.19,343.88C267.71,343.78 269.97,343.93 272.93,343.43C275.89,342.93 278.45,342.17 281.96,340.87C285.48,339.56 290.24,337.16 294.01,335.6C297.77,334.04 301.54,332.41 304.55,331.53C307.56,330.66 310,330.55 312.08,330.33C314.16,330.1 316.22,330.2 317.05,330.18"/>
<path d="M43.01,331.08C44.52,331.58 48.78,332.46 52.05,334.09C55.31,335.72 59.07,338.49 62.59,340.87C66.1,343.25 69.61,346.44 73.13,348.4C76.64,350.36 81.11,351.81 83.67,352.62C86.23,353.42 85.23,353.04 88.49,353.22C91.75,353.39 98.73,353.59 103.24,353.67C107.76,353.74 112.08,353.92 115.59,353.67C119.11,353.42 121.37,353.04 124.33,352.16C127.29,351.28 129.85,350.66 133.36,348.4C136.88,346.14 141.64,341.25 145.41,338.61C149.17,335.98 152.94,333.89 155.95,332.59C158.96,331.28 161.4,331.11 163.48,330.78C165.56,330.45 167.62,330.66 168.45,330.63"/>
<path d="M191.61,331.08C193.12,331.58 197.38,332.46 200.65,334.09C203.91,335.72 207.67,338.49 211.19,340.87C214.7,343.25 218.21,346.44 221.73,348.4C225.24,350.36 229.71,351.81 232.27,352.62C234.83,353.42 233.83,353.04 237.09,353.22C240.35,353.39 247.33,353.59 251.84,353.67C256.36,353.74 260.68,353.92 264.19,353.67C267.71,353.42 269.97,353.04 272.93,352.16C275.89,351.28 278.45,350.66 281.96,348.4C285.48,346.14 290.24,341.25 294.01,338.61C297.77,335.98 301.54,333.89 304.55,332.59C307.56,331.28 310,331.11 312.08,330.78C314.16,330.45 316.22,330.66 317.05,330.63"/>
<path d="M43.01,337.1C44.02,337.48 47.03,338.16 49.03,339.36C51.04,340.57 52.8,342.33 55.06,344.33C57.32,346.34 60.08,349.65 62.59,351.41C65.1,353.17 67.36,354.3 70.12,354.87C72.88,355.45 76.09,355 79.15,354.87C82.21,354.75 85.48,354.07 88.49,354.12C91.5,354.17 94.26,354.12 97.22,355.17C100.18,356.23 103.19,358.24 106.26,360.45C109.32,362.65 112.58,365.79 115.59,368.43C118.6,371.06 121.62,374.4 124.33,376.26C127.04,378.11 129.85,379.12 131.86,379.57C133.86,380.02 134.62,379.9 136.37,378.97C138.13,378.04 140.14,377.21 142.4,374C144.66,370.79 147.42,364.46 149.93,359.69C152.44,354.92 155.2,348.95 157.45,345.39C159.71,341.82 161.65,339.69 163.48,338.31C165.31,336.93 167.62,337.31 168.45,337.1"/>
<path d="M191.61,337.1C192.62,337.48 195.63,338.16 197.63,339.36C199.64,340.57 201.4,342.33 203.66,344.33C205.92,346.34 208.68,349.65 211.19,351.41C213.7,353.17 215.96,354.3 218.72,354.87C221.48,355.45 224.69,355 227.75,354.87C230.81,354.75 234.08,354.07 237.09,354.12C240.1,354.17 242.86,354.12 245.82,355.17C248.78,356.23 251.79,358.24 254.86,360.45C257.92,362.65 261.18,365.79 264.19,368.43C267.2,371.06 270.22,374.4 272.93,376.26C275.64,378.11 278.45,379.12 280.46,379.57C282.46,380.02 283.22,379.9 284.97,378.97C286.73,378.04 288.74,377.21 291,374C293.26,370.79 296.02,364.46 298.53,359.69C301.04,354.92 303.8,348.95 306.05,345.39C308.31,341.82 310.25,339.69 312.08,338.31C313.91,336.93 316.22,337.31 317.05,337.1"/>
<path d="M43.01,358.94C45.02,358.81 50.54,358.69 55.06,358.19C59.58,357.68 65.85,356.61 70.12,355.93C74.38,355.25 77.6,354.52 80.66,354.12C83.72,353.72 84.72,353.57 88.49,353.52C92.25,353.47 98.73,353.72 103.24,353.82C107.76,353.92 111.58,353.84 115.59,354.12C119.61,354.4 123.37,354.85 127.34,355.48C131.3,356.1 134.87,357.31 139.38,357.89C143.9,358.46 149.6,358.74 154.44,358.94C159.29,359.14 166.11,359.07 168.45,359.09"/>
<path d="M191.61,358.94C193.62,358.81 199.14,358.69 203.66,358.19C208.18,357.68 214.45,356.61 218.72,355.93C222.98,355.25 226.2,354.52 229.26,354.12C232.32,353.72 233.32,353.57 237.09,353.52C240.85,353.47 247.33,353.72 251.84,353.82C256.36,353.92 260.18,353.84 264.19,354.12C268.21,354.4 271.97,354.85 275.94,355.48C279.9,356.1 283.47,357.31 287.98,357.89C292.5,358.46 298.2,358.74 303.04,358.94C307.89,359.14 314.71,359.07 317.05,359.09"/>
<path d="M43.01,359.69C45.02,359.82 51.04,360.14 55.06,360.45C59.07,360.75 63.34,360.5 67.1,361.5C70.87,362.5 74.08,365.26 77.65,366.47C81.21,367.67 84.72,368.2 88.49,368.73C92.25,369.25 96.77,369.41 100.23,369.63C103.7,369.86 106.71,370.23 109.27,370.08C111.83,369.93 113.08,369.96 115.59,368.73C118.1,367.5 121.37,364.31 124.33,362.7C127.29,361.1 129.85,359.79 133.36,359.09C136.88,358.39 139.56,358.49 145.41,358.49C151.26,358.49 164.61,358.99 168.45,359.09"/>
<path d="M191.61,359.69C193.62,359.82 199.64,360.14 203.66,360.45C207.67,360.75 211.94,360.5 215.7,361.5C219.47,362.5 222.68,365.26 226.25,366.47C229.81,367.67 233.32,368.2 237.09,368.73C240.85,369.25 245.37,369.41 248.83,369.63C252.3,369.86 255.31,370.23 257.87,370.08C260.43,369.93 261.68,369.96 264.19,368.73C266.7,367.5 269.97,364.31 272.93,362.7C275.89,361.1 278.45,359.79 281.96,359.09C285.48,358.39 288.16,358.49 294.01,358.49C299.86,358.49 313.21,358.99 317.05,359.09"/>
<path d="M43.01,360.14C44.02,360.45 47.03,361.07 49.03,361.95C51.04,362.83 52.8,364.16 55.06,365.41C57.32,366.67 60.08,368.23 62.59,369.48C65.1,370.74 67.36,371.94 70.12,372.94C72.88,373.95 76.09,374.95 79.15,375.5C82.21,376.06 85.48,376.26 88.49,376.26C91.5,376.26 94.26,376.06 97.22,375.5C100.18,374.95 103.75,373.82 106.26,372.94C108.77,372.07 110.72,370.94 112.28,370.23C113.84,369.53 113.59,369.78 115.59,368.73C117.6,367.67 121.37,365.36 124.33,363.91C127.29,362.45 129.85,360.8 133.36,359.99C136.88,359.19 139.56,359.22 145.41,359.09C151.26,358.96 164.61,359.22 168.45,359.24"/>
<path d="M191.61,360.14C192.62,360.45 195.63,361.07 197.63,361.95C199.64,362.83 201.4,364.16 203.66,365.41C205.92,366.67 208.68,368.23 211.19,369.48C213.7,370.74 215.96,371.94 218.72,372.94C221.48,373.95 224.69,374.95 227.75,375.5C230.81,376.06 234.08,376.26 237.09,376.26C240.1,376.26 242.86,376.06 245.82,375.5C248.78,374.95 252.35,373.82 254.86,372.94C257.37,372.07 259.32,370.94 260.88,370.23C262.44,369.53 262.19,369.78 264.19,368.73C266.2,367.67 269.97,365.36 272.93,363.91C275.89,362.45 278.45,360.8 281.96,359.99C285.48,359.19 288.16,359.22 294.01,359.09C299.86,358.96 313.21,359.22 317.05,359.24"/>
<path d="M43.01,374C44.02,374.17 47.03,374.37 49.03,375.05C51.04,375.73 52.8,376.86 55.06,378.06C57.32,379.27 60.33,381.28 62.59,382.28C64.85,383.28 66.6,384.09 68.61,384.09C70.62,384.09 72.38,383.21 74.63,382.28C76.89,381.35 79.85,379.37 82.16,378.52C84.47,377.66 85.98,377.54 88.49,377.16C91,376.78 94.51,376.36 97.22,376.26C99.93,376.16 102.49,376.26 104.75,376.56C107.01,376.86 108.97,377.51 110.77,378.06C112.58,378.62 113.84,378.99 115.59,379.87C117.35,380.75 119.36,382.31 121.31,383.33C123.27,384.36 125.33,385.47 127.34,386.04C129.35,386.62 131.6,386.85 133.36,386.8C135.12,386.75 135.87,386.55 137.88,385.74C139.89,384.94 142.65,383.43 145.41,381.98C148.17,380.52 151.68,378.34 154.44,377.01C157.2,375.68 159.64,374.63 161.97,374C164.31,373.37 167.37,373.37 168.45,373.24"/>
<path d="M191.61,374C192.62,374.17 195.63,374.37 197.63,375.05C199.64,375.73 201.4,376.86 203.66,378.06C205.92,379.27 208.93,381.28 211.19,382.28C213.45,383.28 215.2,384.09 217.21,384.09C219.22,384.09 220.98,383.21 223.23,382.28C225.49,381.35 228.45,379.37 230.76,378.52C233.07,377.66 234.58,377.54 237.09,377.16C239.6,376.78 243.11,376.36 245.82,376.26C248.53,376.16 251.09,376.26 253.35,376.56C255.61,376.86 257.57,377.51 259.37,378.06C261.18,378.62 262.44,378.99 264.19,379.87C265.95,380.75 267.96,382.31 269.91,383.33C271.87,384.36 273.93,385.47 275.94,386.04C277.95,386.62 280.2,386.85 281.96,386.8C283.72,386.75 284.47,386.55 286.48,385.74C288.49,384.94 291.25,383.43 294.01,381.98C296.77,380.52 300.28,378.34 303.04,377.01C305.8,375.68 308.24,374.63 310.57,374C312.91,373.37 315.97,373.37 317.05,373.24"/>
<path d="M43.01,449.75C44.27,449.37 48.28,448.62 50.54,447.49C52.8,446.36 54.56,445.11 56.56,442.97C58.57,440.84 60.33,437.96 62.59,434.69C64.85,431.43 67.36,427.16 70.12,423.4C72.88,419.63 76.09,415.74 79.15,412.1C82.21,408.47 85.48,404.38 88.49,401.56C91.5,398.75 94.76,397.05 97.22,395.24C99.68,393.43 101.49,392.3 103.24,390.72C105,389.14 106.26,387.33 107.76,385.75C109.27,384.17 110.9,382.36 112.28,381.24C113.66,380.11 114.54,379.35 116.04,378.98C117.55,378.6 119.43,378.6 121.31,378.98C123.2,379.35 125.33,380.36 127.34,381.24C129.35,382.11 131.35,383.37 133.36,384.25C135.37,385.13 137.38,385.7 139.38,386.51C141.39,387.31 142.9,388.06 145.41,389.07C147.92,390.07 151.43,391.53 154.44,392.53C157.45,393.53 161.14,394.54 163.48,395.09C165.81,395.64 167.62,395.72 168.45,395.84"/>
<path d="M191.61,449.75C192.87,449.37 196.88,448.62 199.14,447.49C201.4,446.36 203.16,445.11 205.16,442.97C207.17,440.84 208.93,437.96 211.19,434.69C213.45,431.43 215.96,427.16 218.72,423.4C221.48,419.63 224.69,415.74 227.75,412.1C230.81,408.47 234.08,404.38 237.09,401.56C240.1,398.75 243.36,397.05 245.82,395.24C248.28,393.43 250.09,392.3 251.84,390.72C253.6,389.14 254.86,387.33 256.36,385.75C257.87,384.17 259.5,382.36 260.88,381.24C262.26,380.11 263.14,379.35 264.64,378.98C266.15,378.6 268.03,378.6 269.91,378.98C271.8,379.35 273.93,380.36 275.94,381.24C277.95,382.11 279.95,383.37 281.96,384.25C283.97,385.13 285.98,385.7 287.98,386.51C289.99,387.31 291.5,388.06 294.01,389.07C296.52,390.07 300.03,391.53 303.04,392.53C306.05,393.53 309.74,394.54 312.08,395.09C314.41,395.64 316.22,395.72 317.05,395.84"/>
<path d="M43.01,396.29C44.52,395.97 49.29,395.09 52.05,394.34C54.81,393.58 57.07,392.38 59.58,391.78C62.09,391.17 64.6,390.47 67.1,390.72C69.61,390.97 72.12,391.98 74.63,393.28C77.14,394.59 79.85,397.12 82.16,398.55C84.47,399.98 85.98,400.74 88.49,401.87C91,402.99 94.26,404.12 97.22,405.33C100.18,406.53 103.19,407.59 106.26,409.09C109.32,410.6 112.58,412.73 115.59,414.36C118.6,416 121.37,417.75 124.33,418.88C127.29,420.01 129.85,420.76 133.36,421.14C136.88,421.52 141.39,421.19 145.41,421.14C149.42,421.09 153.62,420.89 157.45,420.84C161.29,420.79 166.62,420.84 168.45,420.84"/>
<path d="M191.61,396.29C193.12,395.97 197.89,395.09 200.65,394.34C203.41,393.58 205.67,392.38 208.18,391.78C210.69,391.17 213.2,390.47 215.7,390.72C218.21,390.97 220.72,391.98 223.23,393.28C225.74,394.59 228.45,397.12 230.76,398.55C233.07,399.98 234.58,400.74 237.09,401.87C239.6,402.99 242.86,404.12 245.82,405.33C248.78,406.53 251.79,407.59 254.86,409.09C257.92,410.6 261.18,412.73 264.19,414.36C267.2,416 269.97,417.75 272.93,418.88C275.89,420.01 278.45,420.76 281.96,421.14C285.48,421.52 289.99,421.19 294.01,421.14C298.02,421.09 302.22,420.89 306.05,420.84C309.89,420.79 315.22,420.84 317.05,420.84"/>
<path d="M43.01,396.75C44.52,397.17 48.78,398.63 52.05,399.31C55.31,399.98 58.32,400.56 62.59,400.81C66.85,401.06 73.33,400.94 77.65,400.81C81.96,400.69 84.22,400.31 88.49,400.06C92.75,399.81 98.73,399.36 103.24,399.31C107.76,399.26 111.08,399.51 115.59,399.76C120.11,400.01 125.88,400.56 130.35,400.81C134.82,401.06 138.88,401.51 142.4,401.26C145.91,401.01 148.67,400.06 151.43,399.31C154.19,398.55 156.12,397.32 158.96,396.75C161.8,396.17 166.87,395.99 168.45,395.84"/>
<path d="M191.61,396.75C193.12,397.17 197.38,398.63 200.65,399.31C203.91,399.98 206.92,400.56 211.19,400.81C215.45,401.06 221.93,400.94 226.25,400.81C230.56,400.69 232.82,400.31 237.09,400.06C241.35,399.81 247.33,399.36 251.84,399.31C256.36,399.26 259.68,399.51 264.19,399.76C268.71,400.01 274.48,400.56 278.95,400.81C283.42,401.06 287.48,401.51 291,401.26C294.51,401.01 297.27,400.06 300.03,399.31C302.79,398.55 304.72,397.32 307.56,396.75C310.4,396.17 315.47,395.99 317.05,395.84"/>
<path d="M43.01,413.31C44.52,413.56 49.03,414.07 52.05,414.82C55.06,415.57 58.07,416.83 61.08,417.83C64.09,418.83 67.1,420.14 70.12,420.84C73.13,421.54 76.09,421.85 79.15,422.05C82.21,422.25 84.97,422.25 88.49,422.05C92,421.85 97.02,421.47 100.23,420.84C103.45,420.21 105.75,419.34 107.76,418.28C109.77,417.23 110.97,415.52 112.28,414.52C113.59,413.51 114.09,413.14 115.59,412.26C117.1,411.38 119.36,410.03 121.31,409.25C123.27,408.47 125.46,407.47 127.34,407.59C129.22,407.72 130.85,408.47 132.61,410C134.37,411.53 135.75,413.64 137.88,416.78C140.01,419.91 142.9,424.18 145.41,428.82C147.92,433.47 150.68,440.49 152.94,444.63C155.2,448.78 156.38,451.41 158.96,453.67C161.55,455.93 166.87,457.43 168.45,458.19"/>
<path d="M191.61,413.31C193.12,413.56 197.63,414.07 200.65,414.82C203.66,415.57 206.67,416.83 209.68,417.83C212.69,418.83 215.7,420.14 218.72,420.84C221.73,421.54 224.69,421.85 227.75,422.05C230.81,422.25 233.57,422.25 237.09,422.05C240.6,421.85 245.62,421.47 248.83,420.84C252.05,420.21 254.35,419.34 256.36,418.28C258.37,417.23 259.57,415.52 260.88,414.52C262.19,413.51 262.69,413.14 264.19,412.26C265.7,411.38 267.96,410.03 269.91,409.25C271.87,408.47 274.06,407.47 275.94,407.59C277.82,407.72 279.45,408.47 281.21,410C282.97,411.53 284.35,413.64 286.48,416.78C288.61,419.91 291.5,424.18 294.01,428.82C296.52,433.47 299.28,440.49 301.54,444.63C303.8,448.78 304.98,451.41 307.56,453.67C310.15,455.93 315.47,457.43 317.05,458.19"/>
<path d="M43.01,417.53C44.52,417.78 48.78,418.33 52.05,419.03C55.31,419.74 59.07,420.99 62.59,421.75C66.1,422.5 68.81,423.2 73.13,423.55C77.45,423.9 83.47,423.73 88.49,423.85C93.51,423.98 98.73,424.36 103.24,424.31C107.76,424.26 111.58,423.8 115.59,423.55C119.61,423.3 123.37,423.18 127.34,422.8C131.3,422.42 135.37,422.3 139.38,421.29C143.4,420.29 147.92,417.96 151.43,416.78C154.95,415.6 157.63,414.79 160.47,414.22C163.3,413.64 167.12,413.46 168.45,413.31"/>
<path d="M191.61,417.53C193.12,417.78 197.38,418.33 200.65,419.03C203.91,419.74 207.67,420.99 211.19,421.75C214.7,422.5 217.41,423.2 221.73,423.55C226.05,423.9 232.07,423.73 237.09,423.85C242.11,423.98 247.33,424.36 251.84,424.31C256.36,424.26 260.18,423.8 264.19,423.55C268.21,423.3 271.97,423.18 275.94,422.8C279.9,422.42 283.97,422.3 287.98,421.29C292,420.29 296.52,417.96 300.03,416.78C303.55,415.6 306.23,414.79 309.07,414.22C311.9,413.64 315.72,413.46 317.05,413.31"/>
<path d="M43.01,421.29C45.02,421.47 50.54,421.85 55.06,422.35C59.58,422.85 64.55,423.85 70.12,424.31C75.69,424.76 82.97,424.81 88.49,425.06C94.01,425.31 98.73,425.81 103.24,425.81C107.76,425.81 111.08,425.31 115.59,425.06C120.11,424.81 125.38,424.81 130.35,424.31C135.32,423.8 140.89,422.98 145.41,422.05C149.93,421.12 153.62,419.49 157.45,418.73C161.29,417.98 166.62,417.73 168.45,417.53"/>
<path d="M191.61,421.29C193.62,421.47 199.14,421.85 203.66,422.35C208.18,422.85 213.15,423.85 218.72,424.31C224.29,424.76 231.57,424.81 237.09,425.06C242.61,425.31 247.33,425.81 251.84,425.81C256.36,425.81 259.68,425.31 264.19,425.06C268.71,424.81 273.98,424.81 278.95,424.31C283.92,423.8 289.49,422.98 294.01,422.05C298.53,421.12 302.22,419.49 306.05,418.73C309.89,417.98 315.22,417.73 317.05,417.53"/>
<path d="M43.01,421.75C45.02,422.17 50.54,423.5 55.06,424.31C59.58,425.11 64.55,425.99 70.12,426.56C75.69,427.14 82.97,427.52 88.49,427.77C94.01,428.02 98.73,428.15 103.24,428.07C107.76,427.99 111.08,427.57 115.59,427.32C120.11,427.07 125.38,426.94 130.35,426.56C135.32,426.19 140.89,425.76 145.41,425.06C149.93,424.36 153.62,422.98 157.45,422.35C161.29,421.72 166.62,421.47 168.45,421.29"/>
<path d="M191.61,421.75C193.62,422.17 199.14,423.5 203.66,424.31C208.18,425.11 213.15,425.99 218.72,426.56C224.29,427.14 231.57,427.52 237.09,427.77C242.61,428.02 247.33,428.15 251.84,428.07C256.36,427.99 259.68,427.57 264.19,427.32C268.71,427.07 273.98,426.94 278.95,426.56C283.92,426.19 289.49,425.76 294.01,425.06C298.53,424.36 302.22,422.98 306.05,422.35C309.89,421.72 315.22,421.47 317.05,421.29"/>
<path d="M43.01,430.33C45.02,430.45 50.54,431.08 55.06,431.08C59.58,431.08 64.55,430.58 70.12,430.33C75.69,430.08 82.97,429.75 88.49,429.58C94.01,429.4 98.73,429.27 103.24,429.27C107.76,429.27 111.08,429.4 115.59,429.58C120.11,429.75 125.38,430.08 130.35,430.33C135.32,430.58 139.06,431.08 145.41,431.08C151.76,431.08 164.61,430.45 168.45,430.33"/>
<path d="M191.61,430.33C193.62,430.45 199.14,431.08 203.66,431.08C208.18,431.08 213.15,430.58 218.72,430.33C224.29,430.08 231.57,429.75 237.09,429.58C242.61,429.4 247.33,429.27 251.84,429.27C256.36,429.27 259.68,429.4 264.19,429.58C268.71,429.75 273.98,430.08 278.95,430.33C283.92,430.58 287.66,431.08 294.01,431.08C300.36,431.08 313.21,430.45 317.05,430.33"/>
<path d="M43.01,430.78C44.52,431.21 49.03,432.16 52.05,433.34C55.06,434.52 58.07,436.6 61.08,437.86C64.09,439.11 67.1,440.12 70.12,440.87C73.13,441.62 76.09,442.12 79.15,442.38C82.21,442.63 84.97,442.2 88.49,442.38C92,442.55 96.77,442.8 100.23,443.43C103.7,444.06 106.71,445.44 109.27,446.14C111.83,446.84 113.08,447.77 115.59,447.65C118.1,447.52 121.37,446.64 124.33,445.39C127.29,444.13 129.85,441.87 133.36,440.12C136.88,438.36 141.39,436.35 145.41,434.85C149.42,433.34 153.62,431.81 157.45,431.08C161.29,430.35 166.62,430.58 168.45,430.48"/>
<path d="M191.61,430.78C193.12,431.21 197.63,432.16 200.65,433.34C203.66,434.52 206.67,436.6 209.68,437.86C212.69,439.11 215.7,440.12 218.72,440.87C221.73,441.62 224.69,442.12 227.75,442.38C230.81,442.63 233.57,442.2 237.09,442.38C240.6,442.55 245.37,442.8 248.83,443.43C252.3,444.06 255.31,445.44 257.87,446.14C260.43,446.84 261.68,447.77 264.19,447.65C266.7,447.52 269.97,446.64 272.93,445.39C275.89,444.13 278.45,441.87 281.96,440.12C285.48,438.36 289.99,436.35 294.01,434.85C298.02,433.34 302.22,431.81 306.05,431.08C309.89,430.35 315.22,430.58 317.05,430.48"/>
<path d="M43.01,442.38C45.02,442.63 50.54,443.25 55.06,443.88C59.58,444.51 64.55,445.64 70.12,446.14C75.69,446.64 82.97,446.34 88.49,446.89C94.01,447.45 98.73,448.45 103.24,449.45C107.76,450.46 111.58,452.92 115.59,452.92C119.61,452.92 123.37,450.58 127.34,449.45C131.3,448.32 134.87,447.14 139.38,446.14C143.9,445.14 149.6,444.06 154.44,443.43C159.29,442.8 166.11,442.55 168.45,442.38"/>
<path d="M191.61,442.38C193.62,442.63 199.14,443.25 203.66,443.88C208.18,444.51 213.15,445.64 218.72,446.14C224.29,446.64 231.57,446.34 237.09,446.89C242.61,447.45 247.33,448.45 251.84,449.45C256.36,450.46 260.18,452.92 264.19,452.92C268.21,452.92 271.97,450.58 275.94,449.45C279.9,448.32 283.47,447.14 287.98,446.14C292.5,445.14 298.2,444.06 303.04,443.43C307.89,442.8 314.71,442.55 317.05,442.38"/>
<path d="M43.01,442.83C44.52,442.38 49.03,441.57 52.05,440.12C55.06,438.66 58.07,435.85 61.08,434.09C64.09,432.34 67.1,429.83 70.12,429.58C73.13,429.32 76.09,431.53 79.15,432.59C82.21,433.64 84.97,435.2 88.49,435.9C92,436.6 96.77,436.55 100.23,436.8C103.7,437.05 106.71,437.36 109.27,437.41C111.83,437.46 114.54,437.16 115.59,437.1"/>
<path d="M191.61,442.83C193.12,442.38 197.63,441.57 200.65,440.12C203.66,438.66 206.67,435.85 209.68,434.09C212.69,432.34 215.7,429.83 218.72,429.58C221.73,429.32 224.69,431.53 227.75,432.59C230.81,433.64 233.57,435.2 237.09,435.9C240.6,436.6 245.37,436.55 248.83,436.8C252.3,437.05 255.31,437.36 257.87,437.41C260.43,437.46 263.14,437.16 264.19,437.1"/>
<path d="M43.01,450.36C44.52,449.53 49.29,447.22 52.05,445.39C54.81,443.55 57.07,441.5 59.58,439.36C62.09,437.23 64.6,434.72 67.1,432.59C69.61,430.45 72.12,427.94 74.63,426.56C77.14,425.18 79.85,424.86 82.16,424.31C84.47,423.75 87.43,423.43 88.49,423.25"/>
<path d="M191.61,450.36C193.12,449.53 197.89,447.22 200.65,445.39C203.41,443.55 205.67,441.5 208.18,439.36C210.69,437.23 213.2,434.72 215.7,432.59C218.21,430.45 220.72,427.94 223.23,426.56C225.74,425.18 228.45,424.86 230.76,424.31C233.07,423.75 236.03,423.43 237.09,423.25"/>
<path d="M43.01,456.68C44.27,456.05 48.03,454.67 50.54,452.92C53.05,451.16 55.56,448.52 58.07,446.14C60.58,443.76 62.84,440.49 65.6,438.61C68.36,436.73 70.82,435.6 74.63,434.85C78.45,434.09 83.72,434.47 88.49,434.09C93.26,433.72 98.73,433.09 103.24,432.59C107.76,432.09 111.58,431.08 115.59,431.08C119.61,431.08 123.87,431.46 127.34,432.59C130.8,433.72 133.36,435.98 136.37,437.86C139.38,439.74 142.4,442.12 145.41,443.88C148.42,445.64 150.6,447.27 154.44,448.4C158.28,449.53 166.11,450.28 168.45,450.66"/>
<path d="M191.61,456.68C192.87,456.05 196.63,454.67 199.14,452.92C201.65,451.16 204.16,448.52 206.67,446.14C209.18,443.76 211.44,440.49 214.2,438.61C216.96,436.73 219.42,435.6 223.23,434.85C227.05,434.09 232.32,434.47 237.09,434.09C241.86,433.72 247.33,433.09 251.84,432.59C256.36,432.09 260.18,431.08 264.19,431.08C268.21,431.08 272.47,431.46 275.94,432.59C279.4,433.72 281.96,435.98 284.97,437.86C287.98,439.74 291,442.12 294.01,443.88C297.02,445.64 299.2,447.27 303.04,448.4C306.88,449.53 314.71,450.28 317.05,450.66"/>
<path d="M43.01,456.98C44.52,456.68 48.78,456.23 52.05,455.17C55.31,454.12 59.07,451.79 62.59,450.66C66.1,449.53 68.81,448.78 73.13,448.4C77.45,448.02 83.47,447.52 88.49,448.4C93.51,449.28 98.73,452.54 103.24,453.67C107.76,454.8 111.58,455.05 115.59,455.17C119.61,455.3 123.37,454.92 127.34,454.42C131.3,453.92 134.87,452.74 139.38,452.16C143.9,451.59 149.6,451.21 154.44,450.96C159.29,450.71 166.11,450.71 168.45,450.66"/>
<path d="M191.61,456.98C193.12,456.68 197.38,456.23 200.65,455.17C203.91,454.12 207.67,451.79 211.19,450.66C214.7,449.53 217.41,448.78 221.73,448.4C226.05,448.02 232.07,447.52 237.09,448.4C242.11,449.28 247.33,452.54 251.84,453.67C256.36,454.8 260.18,455.05 264.19,455.17C268.21,455.3 271.97,454.92 275.94,454.42C279.9,453.92 283.47,452.74 287.98,452.16C292.5,451.59 298.2,451.21 303.04,450.96C307.89,450.71 314.71,450.71 317.05,450.66"/>
<path d="M43.01,462.7C44.52,461.45 49.03,458.39 52.05,455.17C55.06,451.96 58.57,446.89 61.08,443.43C63.59,439.97 65.35,436.9 67.1,434.39C68.86,431.88 69.87,429.98 71.62,428.37C73.38,426.76 74.83,425.56 77.65,424.76C80.46,423.95 84.22,423.5 88.49,423.55C92.75,423.6 98.73,424.93 103.24,425.06C107.76,425.18 112.08,424.43 115.59,424.31C119.11,424.18 121.37,423.18 124.33,424.31C127.29,425.43 130.35,428.45 133.36,431.08C136.37,433.72 139.38,436.85 142.4,440.12C145.41,443.38 148.42,447.39 151.43,450.66C154.44,453.92 157.63,457.68 160.47,459.69C163.3,461.7 167.12,462.2 168.45,462.7"/>
<path d="M191.61,462.7C193.12,461.45 197.63,458.39 200.65,455.17C203.66,451.96 207.17,446.89 209.68,443.43C212.19,439.97 213.95,436.9 215.7,434.39C217.46,431.88 218.47,429.98 220.22,428.37C221.98,426.76 223.43,425.56 226.25,424.76C229.06,423.95 232.82,423.5 237.09,423.55C241.35,423.6 247.33,424.93 251.84,425.06C256.36,425.18 260.68,424.43 264.19,424.31C267.71,424.18 269.97,423.18 272.93,424.31C275.89,425.43 278.95,428.45 281.96,431.08C284.97,433.72 287.98,436.85 291,440.12C294.01,443.38 297.02,447.39 300.03,450.66C303.04,453.92 306.23,457.68 309.07,459.69C311.9,461.7 315.72,462.2 317.05,462.7"/>
<path d="M43.01,463.01C45.02,463.08 50.54,463.63 55.06,463.46C59.58,463.28 64.55,462.45 70.12,461.95C75.69,461.45 82.97,460.7 88.49,460.45C94.01,460.19 98.73,460.32 103.24,460.45C107.76,460.57 111.08,460.82 115.59,461.2C120.11,461.57 125.38,462.2 130.35,462.7C135.32,463.21 140.89,464.21 145.41,464.21C149.93,464.21 153.62,463.08 157.45,462.7C161.29,462.33 166.62,462.08 168.45,461.95"/>
<path d="M191.61,463.01C193.62,463.08 199.14,463.63 203.66,463.46C208.18,463.28 213.15,462.45 218.72,461.95C224.29,461.45 231.57,460.7 237.09,460.45C242.61,460.19 247.33,460.32 251.84,460.45C256.36,460.57 259.68,460.82 264.19,461.2C268.71,461.57 273.98,462.2 278.95,462.7C283.92,463.21 289.49,464.21 294.01,464.21C298.53,464.21 302.22,463.08 306.05,462.7C309.89,462.33 315.22,462.08 317.05,461.95"/>
<path d="M43.01,467.97C45.02,467.72 50.54,467.1 55.06,466.47C59.58,465.84 64.55,464.79 70.12,464.21C75.69,463.63 82.97,463.13 88.49,463.01C94.01,462.88 98.73,463.31 103.24,463.46C107.76,463.61 111.08,463.58 115.59,463.91C120.11,464.24 125.38,464.86 130.35,465.41C135.32,465.97 140.89,466.97 145.41,467.22C149.93,467.47 153.62,466.79 157.45,466.92C161.29,467.05 166.62,467.8 168.45,467.97"/>
<path d="M191.61,467.97C193.62,467.72 199.14,467.1 203.66,466.47C208.18,465.84 213.15,464.79 218.72,464.21C224.29,463.63 231.57,463.13 237.09,463.01C242.61,462.88 247.33,463.31 251.84,463.46C256.36,463.61 259.68,463.58 264.19,463.91C268.71,464.24 273.98,464.86 278.95,465.41C283.92,465.97 289.49,466.97 294.01,467.22C298.53,467.47 302.22,466.79 306.05,466.92C309.89,467.05 315.22,467.8 317.05,467.97"/>
<path d="M43.01,468.43C44.02,467.35 47.03,464.16 49.03,461.95C51.04,459.74 52.55,458.26 55.06,455.17C57.57,452.09 61.58,447.14 64.09,443.43C66.6,439.72 68.36,435.65 70.12,432.89C71.87,430.13 72.88,428.47 74.63,426.87C76.39,425.26 78.35,424 80.66,423.25C82.97,422.5 87.18,422.5 88.49,422.35"/>
<path d="M191.61,468.43C192.62,467.35 195.63,464.16 197.63,461.95C199.64,459.74 201.15,458.26 203.66,455.17C206.17,452.09 210.18,447.14 212.69,443.43C215.2,439.72 216.96,435.65 218.72,432.89C220.47,430.13 221.48,428.47 223.23,426.87C224.99,425.26 226.95,424 229.26,423.25C231.57,422.5 235.78,422.5 237.09,422.35"/>
<path d="M43.01,463.01C44.77,462.58 50.04,461.45 53.55,460.45C57.07,459.44 60.33,457.91 64.09,456.98C67.86,456.05 72.07,455.17 76.14,454.87C80.21,454.57 84.47,454.5 88.49,455.17C92.5,455.85 96.77,457.94 100.23,458.94C103.7,459.94 106.71,460.7 109.27,461.2C111.83,461.7 112.58,462.08 115.59,461.95C118.6,461.83 123.37,461.32 127.34,460.45C131.3,459.57 135.37,457.56 139.38,456.68C143.4,455.8 147.92,455.05 151.43,455.17C154.95,455.3 157.63,456.93 160.47,457.43C163.3,457.94 167.12,458.06 168.45,458.19"/>
<path d="M191.61,463.01C193.37,462.58 198.64,461.45 202.15,460.45C205.67,459.44 208.93,457.91 212.69,456.98C216.46,456.05 220.67,455.17 224.74,454.87C228.81,454.57 233.07,454.5 237.09,455.17C241.1,455.85 245.37,457.94 248.83,458.94C252.3,459.94 255.31,460.7 257.87,461.2C260.43,461.7 261.18,462.08 264.19,461.95C267.2,461.83 271.97,461.32 275.94,460.45C279.9,459.57 283.97,457.56 287.98,456.68C292,455.8 296.52,455.05 300.03,455.17C303.55,455.3 306.23,456.93 309.07,457.43C311.9,457.94 315.72,458.06 317.05,458.19"/>
<path d="M43.01,468.43C45.02,468.35 50.54,468.3 55.06,467.97C59.58,467.65 64.55,466.9 70.12,466.47C75.69,466.04 82.97,465.49 88.49,465.41C94.01,465.34 98.73,465.77 103.24,466.02C107.76,466.27 111.08,466.59 115.59,466.92C120.11,467.25 125.88,467.42 130.35,467.97C134.82,468.53 138.88,469.98 142.4,470.23C145.91,470.48 148.42,469.78 151.43,469.48C154.44,469.18 157.63,468.65 160.47,468.43C163.3,468.2 167.12,468.18 168.45,468.13"/>
<path d="M191.61,468.43C193.62,468.35 199.14,468.3 203.66,467.97C208.18,467.65 213.15,466.9 218.72,466.47C224.29,466.04 231.57,465.49 237.09,465.41C242.61,465.34 247.33,465.77 251.84,466.02C256.36,466.27 259.68,466.59 264.19,466.92C268.71,467.25 274.48,467.42 278.95,467.97C283.42,468.53 287.48,469.98 291,470.23C294.51,470.48 297.02,469.78 300.03,469.48C303.04,469.18 306.23,468.65 309.07,468.43C311.9,468.2 315.72,468.18 317.05,468.13"/>
<path d="M168.4,330.2C172.25,330.22 187.65,330.28 191.5,330.3"/>
<path d="M168.4,330.6C172.25,330.55 187.65,330.35 191.5,330.3"/>
<path d="M168.4,330.6C172.25,330.68 187.65,331.02 191.5,331.1"/>
<path d="M168.4,337.1C172.25,337.1 187.65,337.1 191.5,337.1"/>
<path d="M168.4,359.1C172.25,359.07 187.65,358.93 191.5,358.9"/>
<path d="M168.4,359.2C172.25,359.15 187.65,358.95 191.5,358.9"/>
<path d="M168.4,359.2C172.25,359.28 187.65,359.62 191.5,359.7"/>
<path d="M168.4,359.2C172.25,359.35 187.65,359.95 191.5,360.1"/>
<path d="M168.4,373.2C172.25,373.33 187.65,373.87 191.5,374"/>
<path d="M168.4,395.8C172.25,395.88 187.65,396.22 191.5,396.3"/>
<path d="M168.4,395.8C172.25,395.95 187.65,396.55 191.5,396.7"/>
<path d="M168.4,413.3C172.25,413.3 187.65,413.3 191.5,413.3"/>
<path d="M168.4,417.5C172.25,417.5 187.65,417.5 191.5,417.5"/>
<path d="M168.4,420.8C172.25,420.88 187.65,421.22 191.5,421.3"/>
<path d="M168.4,421.3C172.25,421.3 187.65,421.3 191.5,421.3"/>
<path d="M168.4,421.3C172.25,421.37 187.65,421.63 191.5,421.7"/>
<path d="M168.4,430.3C172.25,430.3 187.65,430.3 191.5,430.3"/>
<path d="M168.4,430.5C172.25,430.47 187.65,430.33 191.5,430.3"/>
<path d="M168.4,430.5C172.25,430.55 187.65,430.75 191.5,430.8"/>
<path d="M168.4,442.4C172.25,442.4 187.65,442.4 191.5,442.4"/>
<path d="M168.4,442.4C172.25,442.47 187.65,442.73 191.5,442.8"/>
<path d="M168.4,450.7C172.25,450.55 187.65,449.95 191.5,449.8"/>
<path d="M168.4,450.7C172.25,450.65 187.65,450.45 191.5,450.4"/>
<path d="M168.4,458.2C172.25,457.95 187.65,456.95 191.5,456.7"/>
<path d="M168.4,458.2C172.25,458 187.65,457.2 191.5,457"/>
<path d="M168.4,462C172.25,462.12 187.65,462.58 191.5,462.7"/>
<path d="M168.4,462.7C172.25,462.7 187.65,462.7 191.5,462.7"/>
<path d="M168.4,462.7C172.25,462.75 187.65,462.95 191.5,463"/>
<path d="M168.4,468C172.25,468 187.65,468 191.5,468"/>
<path d="M168.4,468.1C172.25,468.08 187.65,468.02 191.5,468"/>
<path d="M168.4,468.1C172.25,468.15 187.65,468.35 191.5,468.4"/>
<path d="M43.01,489.39C43.76,488.31 46.02,485 47.53,482.92C49.03,480.83 50.79,478.17 52.05,476.89C53.3,475.61 54.21,475.26 55.06,475.24C55.91,475.21 56.59,475.46 57.17,476.74C57.74,478.02 58.15,480.51 58.52,482.92C58.9,485.33 58.87,487.81 59.43,491.2C59.98,494.59 60.68,499.23 61.83,503.24C62.99,507.26 64.6,511.78 66.35,515.29C68.11,518.81 70.24,521.57 72.38,524.33C74.51,527.09 76.47,530.05 79.15,531.86C81.84,533.66 86.23,535.04 88.49,535.17C90.75,535.29 91.37,534.42 92.7,532.61C94.03,530.8 95.41,528.22 96.47,524.33C97.52,520.44 98.35,514.79 99.03,509.27C99.71,503.75 100.08,497.22 100.53,491.2C100.99,485.17 101.29,478.15 101.74,473.13C102.19,468.11 102.49,465.1 103.24,461.08C104,457.07 105,452.55 106.26,449.03C107.51,445.52 109.22,441.98 110.77,440C112.33,438.02 113.84,437.26 115.59,437.14C117.35,437.01 119.36,437.89 121.31,439.25C123.27,440.6 125.33,442.64 127.34,445.27C129.35,447.91 131.6,451.8 133.36,455.06C135.12,458.32 136.37,461.71 137.88,464.85C139.38,467.98 141.14,471.62 142.4,473.88C143.65,476.14 144.28,477.27 145.41,478.4C146.54,479.53 148.55,480.28 149.17,480.66"/>
<path d="M43.01,489.39C44.27,488.56 47.78,486.08 50.54,484.42C53.3,482.77 56.31,481.28 59.58,479.45C62.84,477.62 66.85,474.99 70.12,473.43C73.38,471.87 76.09,470.92 79.15,470.12C82.21,469.31 84.47,468.91 88.49,468.61C92.5,468.31 98.73,468.36 103.24,468.31C107.76,468.26 111.08,468.18 115.59,468.31C120.11,468.44 126.89,468.06 130.35,469.06C133.81,470.07 134.11,472.28 136.37,474.33C138.63,476.39 141.77,480.36 143.9,481.41C146.04,482.46 147.42,480.58 149.17,480.66C150.93,480.73 152.56,481.11 154.44,481.86C156.33,482.62 158.13,483.87 160.47,485.17C162.8,486.48 167.12,488.94 168.45,489.69"/>
<path d="M43.01,489.39C44.02,488.19 47.03,484.37 49.03,482.16C51.04,479.95 52.8,477.77 55.06,476.14C57.32,474.51 59.58,473.5 62.59,472.38C65.6,471.25 68.81,470.24 73.13,469.36C77.45,468.49 83.47,467.53 88.49,467.1C93.51,466.68 98.73,466.8 103.24,466.8C107.76,466.8 111.08,466.85 115.59,467.1C120.11,467.36 126.38,467.43 130.35,468.31C134.32,469.19 136.37,471.2 139.38,472.38C142.4,473.55 145.41,473.88 148.42,475.39C151.43,476.89 154.12,479.03 157.45,481.41C160.79,483.79 166.62,488.31 168.45,489.69"/>
<path d="M168.36,489.39C169.47,488.64 172.63,486.33 174.99,484.87C177.35,483.42 179.76,481.86 182.52,480.66C185.28,479.45 189.04,478.4 191.55,477.65C194.06,476.89 195.82,476.49 197.58,476.14C199.33,475.79 200.96,475.41 202.09,475.54C203.22,475.66 203.77,475.66 204.35,476.89C204.93,478.12 205.18,480.28 205.56,482.92C205.93,485.55 206.06,489.07 206.61,492.7C207.16,496.34 207.74,500.74 208.87,504.75C210,508.77 211.63,513.03 213.39,516.8C215.14,520.56 217.03,524.08 219.41,527.34C221.79,530.6 224.68,534.16 227.69,536.37C230.7,538.58 234.97,540.59 237.48,540.59C239.99,540.59 241.24,539.08 242.75,536.37C244.26,533.66 245.51,529.35 246.52,524.33C247.52,519.31 248.2,512.28 248.77,506.26C249.35,500.23 249.63,493.71 249.98,488.19C250.33,482.67 250.46,477.65 250.88,473.13C251.31,468.61 251.64,465.1 252.54,461.08C253.44,457.07 254.92,452.42 256.3,449.03C257.68,445.65 259.44,442.64 260.82,440.75C262.2,438.87 263.08,437.99 264.59,437.74C266.09,437.49 267.97,437.99 269.86,439.25C271.74,440.5 273.87,442.64 275.88,445.27C277.89,447.91 280.15,451.8 281.9,455.06C283.66,458.32 285.04,461.33 286.42,464.85C287.8,468.36 289.06,472.8 290.18,476.14C291.31,479.48 292.07,484.62 293.2,484.87C294.33,485.12 295.33,480.36 296.96,477.65C298.59,474.94 300.73,471.12 302.98,468.61C305.24,466.1 308.13,464.09 310.51,462.59C312.9,461.08 316.16,460.08 317.29,459.58"/>
<path d="M168.36,489.39C169.47,488.74 172.63,486.68 174.99,485.48C177.35,484.27 179.76,483.17 182.52,482.16C185.28,481.16 188.54,480.21 191.55,479.45C194.56,478.7 197.83,477.57 200.59,477.65C203.35,477.72 205.36,480.16 208.12,479.9C210.88,479.65 213.89,477.65 217.15,476.14C220.41,474.63 224.3,472.12 227.69,470.87C231.08,469.61 233.72,469.11 237.48,468.61C241.24,468.11 245.76,467.98 250.28,467.86C254.8,467.73 259.57,467.73 264.59,467.86C269.6,467.98 276.26,467.61 280.4,468.61C284.54,469.61 286.42,472.25 289.43,473.88C292.44,475.51 295.2,477.47 298.47,478.4C301.73,479.33 305.87,479.08 309.01,479.45C312.14,479.83 315.91,480.46 317.29,480.66"/>
<path d="M168.36,489.39C169.47,488.59 172.63,486.08 174.99,484.57C177.35,483.07 179.76,481.51 182.52,480.36C185.28,479.2 188.29,478.35 191.55,477.65C194.82,476.94 198.83,476.77 202.09,476.14C205.36,475.51 207.61,475.01 211.13,473.88C214.64,472.75 218.78,470.49 223.17,469.36C227.57,468.23 232.96,467.53 237.48,467.1C242,466.68 245.76,466.8 250.28,466.8C254.8,466.8 259.57,466.85 264.59,467.1C269.6,467.36 275.75,467.43 280.4,468.31C285.04,469.19 288.68,470.94 292.44,472.38C296.21,473.81 298.84,476.01 302.98,476.89C307.13,477.77 314.91,477.52 317.29,477.65"/>
</g>
<line x1="43" y1="350.04" x2="50.5" y2="350.04" stroke="#000" stroke-width="1.4"/>
<line x1="43" y1="384.88" x2="50.5" y2="384.88" stroke="#000" stroke-width="1.4"/>
<line x1="43" y1="419.72" x2="50.5" y2="419.72" stroke="#000" stroke-width="1.4"/>
<line x1="43" y1="454.56" x2="50.5" y2="454.56" stroke="#000" stroke-width="1.4"/>
<line x1="43" y1="489.4" x2="50.5" y2="489.4" stroke="#000" stroke-width="1.4"/>
<line x1="43" y1="524.24" x2="50.5" y2="524.24" stroke="#000" stroke-width="1.4"/>
<rect x="43" y="315.5" width="274" height="228" fill="none" stroke="#222" stroke-width="1.4"/>
<text x="36.5" y="320.9" font-size="18.2" text-anchor="end">10</text>
<text x="36.5" y="355.74" font-size="18.2" text-anchor="end">8</text>
<text x="36.5" y="390.58" font-size="18.2" text-anchor="end">6</text>
<text x="36.5" y="425.42" font-size="18.2" text-anchor="end">4</text>
<text x="36.5" y="460.26" font-size="18.2" text-anchor="end">2</text>
<text x="36.5" y="495.1" font-size="18.2" text-anchor="end">0</text>
<text x="36.5" y="529.94" font-size="18.2" text-anchor="end">-2</text>
<text transform="translate(45.2,562.5) scale(1.22,1)" x="0" y="0" font-size="19.8" text-anchor="middle">Γ</text>
<text x="87.8" y="562.5" font-size="19" font-weight="bold" text-anchor="middle">M</text>
<text x="115.7" y="562.5" font-size="19" font-weight="bold" text-anchor="middle">K</text>
<text transform="translate(167,562.5) scale(1.22,1)" x="0" y="0" font-size="19.8" text-anchor="middle">Γ</text>
<text x="192.2" y="562.5" font-size="19" font-weight="bold" text-anchor="middle">A</text>
<text x="237.3" y="562.5" font-size="19" font-weight="bold" text-anchor="middle">L</text>
<text x="263.2" y="562.5" font-size="19" font-weight="bold" text-anchor="middle">H</text>
<text x="313.7" y="562.5" font-size="19" font-weight="bold" text-anchor="middle">A</text>
<text transform="translate(16.5,422) rotate(-90)" font-size="20.5" font-weight="bold" text-anchor="middle">Frequency (Thz)</text>
<clipPath id="clipg"><rect x="354.7" y="314.9" width="273.1" height="227"/></clipPath>
<line x1="400.3" y1="314.9" x2="400.3" y2="541.9" stroke="#cfcfcf" stroke-width="1" stroke-dasharray="2.9,1.3"/>
<line x1="426.5" y1="314.9" x2="426.5" y2="541.9" stroke="#cfcfcf" stroke-width="1" stroke-dasharray="2.9,1.3"/>
<line x1="479.3" y1="314.9" x2="479.3" y2="541.9" stroke="#cfcfcf" stroke-width="1" stroke-dasharray="2.9,1.3"/>
<line x1="502.8" y1="314.9" x2="502.8" y2="541.9" stroke="#cfcfcf" stroke-width="1" stroke-dasharray="2.9,1.3"/>
<line x1="548.7" y1="314.9" x2="548.7" y2="541.9" stroke="#cfcfcf" stroke-width="1" stroke-dasharray="2.9,1.3"/>
<line x1="574.8" y1="314.9" x2="574.8" y2="541.9" stroke="#cfcfcf" stroke-width="1" stroke-dasharray="2.9,1.3"/>
<line x1="354.7" y1="496" x2="627.8" y2="496" stroke="#cfcfcf" stroke-width="1" stroke-dasharray="3,2.2"/>
<g clip-path="url(#clipg)" fill="none" stroke="#0303fb" stroke-width="2.35" stroke-linejoin="round" stroke-linecap="round">
<path d="M354.52,333.79C356.27,334.04 361.54,334.49 365.06,335.3C368.57,336.1 371.83,337.56 375.6,338.61C379.36,339.66 383.5,341 387.65,341.62C391.79,342.25 396.18,342.2 400.45,342.38C404.71,342.55 408.9,342.6 413.24,342.68C417.59,342.75 422.48,342.88 426.5,342.83C430.51,342.78 433.52,342.95 437.34,342.38C441.15,341.8 445.37,340.44 449.38,339.36C453.4,338.28 457.67,336.78 461.43,335.9C465.2,335.02 469.01,334.44 471.97,334.09C474.93,333.74 478,333.84 479.2,333.79"/>
<path d="M502.87,333.79C504.62,334.04 509.89,334.49 513.41,335.3C516.92,336.1 520.18,337.56 523.95,338.61C527.71,339.66 531.85,341 536,341.62C540.14,342.25 544.53,342.2 548.8,342.38C553.06,342.55 557.25,342.6 561.59,342.68C565.94,342.75 570.83,342.88 574.85,342.83C578.86,342.78 581.87,342.95 585.69,342.38C589.5,341.8 593.72,340.44 597.73,339.36C601.75,338.28 606.02,336.78 609.78,335.9C613.55,335.02 617.36,334.44 620.32,334.09C623.28,333.74 626.35,333.84 627.55,333.79"/>
<path d="M354.52,334.09C356.27,334.47 361.54,335.1 365.06,336.35C368.57,337.61 372.34,339.87 375.6,341.62C378.86,343.38 381.62,345.44 384.63,346.89C387.65,348.35 391.03,349.6 393.67,350.36C396.3,351.11 397.18,351.06 400.45,351.41C403.71,351.76 408.9,352.14 413.24,352.46C417.59,352.79 422.98,353.42 426.5,353.37C430.01,353.32 431.52,352.99 434.33,352.16C437.14,351.34 439.85,350.28 443.36,348.4C446.88,346.52 451.64,343 455.41,340.87C459.17,338.74 462.94,336.73 465.95,335.6C468.96,334.47 471.27,334.39 473.48,334.09C475.69,333.79 478.25,333.84 479.2,333.79"/>
<path d="M502.87,334.09C504.62,334.47 509.89,335.1 513.41,336.35C516.92,337.61 520.69,339.87 523.95,341.62C527.21,343.38 529.97,345.44 532.98,346.89C536,348.35 539.38,349.6 542.02,350.36C544.65,351.11 545.53,351.06 548.8,351.41C552.06,351.76 557.25,352.14 561.59,352.46C565.94,352.79 571.33,353.42 574.85,353.37C578.36,353.32 579.87,352.99 582.68,352.16C585.49,351.34 588.2,350.28 591.71,348.4C595.23,346.52 599.99,343 603.76,340.87C607.52,338.74 611.29,336.73 614.3,335.6C617.31,334.47 619.62,334.39 621.83,334.09C624.04,333.79 626.6,333.84 627.55,333.79"/>
<path d="M354.52,353.67C356.27,353.79 360.79,354.3 365.06,354.42C369.32,354.55 375.6,354.67 380.12,354.42C384.63,354.17 388.78,353.34 392.16,352.92C395.55,352.49 396.93,351.94 400.45,351.86C403.96,351.79 408.9,352.16 413.24,352.46C417.59,352.77 421.98,353.34 426.5,353.67C431.01,354 435.53,354.22 440.35,354.42C445.17,354.62 450.89,354.87 455.41,354.87C459.93,354.87 463.49,354.62 467.45,354.42C471.42,354.22 477.24,353.79 479.2,353.67"/>
<path d="M502.87,353.67C504.62,353.79 509.14,354.3 513.41,354.42C517.67,354.55 523.95,354.67 528.47,354.42C532.98,354.17 537.13,353.34 540.51,352.92C543.9,352.49 545.28,351.94 548.8,351.86C552.31,351.79 557.25,352.16 561.59,352.46C565.94,352.77 570.33,353.34 574.85,353.67C579.36,354 583.88,354.22 588.7,354.42C593.52,354.62 599.24,354.87 603.76,354.87C608.28,354.87 611.84,354.62 615.8,354.42C619.77,354.22 625.59,353.79 627.55,353.67"/>
<path d="M354.52,350.96C355.52,351.28 358.53,351.71 360.54,352.92C362.55,354.12 364.56,356.18 366.56,358.19C368.57,360.19 370.58,362.83 372.59,364.96C374.6,367.1 376.6,369.41 378.61,370.99C380.62,372.57 382.38,373.75 384.63,374.45C386.89,375.15 389.53,375.1 392.16,375.2C394.8,375.3 397.94,374.88 400.45,375.05C402.96,375.23 405.09,375.68 407.22,376.26C409.35,376.83 410.99,377.51 413.24,378.52C415.5,379.52 418.57,381.4 420.77,382.28C422.98,383.16 424.24,384.09 426.5,383.79C428.76,383.48 432.02,381.43 434.33,380.47C436.64,379.52 438.34,378.77 440.35,378.06C442.36,377.36 444.37,377.06 446.37,376.26C448.38,375.45 450.39,374.63 452.4,373.24C454.4,371.86 456.41,369.98 458.42,367.97C460.43,365.97 462.44,363.46 464.44,361.2C466.45,358.94 468.71,355.98 470.47,354.42C472.22,352.87 473.53,352.44 474.98,351.86C476.44,351.28 478.5,351.11 479.2,350.96"/>
<path d="M502.87,350.96C503.87,351.28 506.88,351.71 508.89,352.92C510.9,354.12 512.91,356.18 514.91,358.19C516.92,360.19 518.93,362.83 520.94,364.96C522.95,367.1 524.95,369.41 526.96,370.99C528.97,372.57 530.73,373.75 532.98,374.45C535.24,375.15 537.88,375.1 540.51,375.2C543.15,375.3 546.29,374.88 548.8,375.05C551.31,375.23 553.44,375.68 555.57,376.26C557.7,376.83 559.34,377.51 561.59,378.52C563.85,379.52 566.92,381.4 569.12,382.28C571.33,383.16 572.59,384.09 574.85,383.79C577.11,383.48 580.37,381.43 582.68,380.47C584.99,379.52 586.69,378.77 588.7,378.06C590.71,377.36 592.72,377.06 594.72,376.26C596.73,375.45 598.74,374.63 600.75,373.24C602.75,371.86 604.76,369.98 606.77,367.97C608.78,365.97 610.79,363.46 612.79,361.2C614.8,358.94 617.06,355.98 618.82,354.42C620.57,352.87 621.88,352.44 623.33,351.86C624.79,351.28 626.85,351.11 627.55,350.96"/>
<path d="M354.52,376.26C356.27,376.26 360.79,376.13 365.06,376.26C369.32,376.38 376.35,376.63 380.12,377.01C383.88,377.39 385.14,377.76 387.65,378.52C390.16,379.27 393.04,380.77 395.17,381.53C397.31,382.28 397.94,382.66 400.45,383.03C402.96,383.41 407.35,383.66 410.23,383.79C413.12,383.91 415.05,383.84 417.76,383.79C420.47,383.74 423.74,383.36 426.5,383.48C429.26,383.61 432.02,384.11 434.33,384.54C436.64,384.97 438.34,385.67 440.35,386.04C442.36,386.42 444.37,387.17 446.37,386.8C448.38,386.42 450.39,384.92 452.4,383.79C454.4,382.66 455.91,381.08 458.42,380.02C460.93,378.97 463.99,378.09 467.45,377.46C470.92,376.83 477.24,376.46 479.2,376.26"/>
<path d="M502.87,376.26C504.62,376.26 509.14,376.13 513.41,376.26C517.67,376.38 524.7,376.63 528.47,377.01C532.23,377.39 533.49,377.76 536,378.52C538.51,379.27 541.39,380.77 543.52,381.53C545.66,382.28 546.29,382.66 548.8,383.03C551.31,383.41 555.7,383.66 558.58,383.79C561.47,383.91 563.4,383.84 566.11,383.79C568.82,383.74 572.09,383.36 574.85,383.48C577.61,383.61 580.37,384.11 582.68,384.54C584.99,384.97 586.69,385.67 588.7,386.04C590.71,386.42 592.72,387.17 594.72,386.8C596.73,386.42 598.74,384.92 600.75,383.79C602.75,382.66 604.26,381.08 606.77,380.02C609.28,378.97 612.34,378.09 615.8,377.46C619.27,376.83 625.59,376.46 627.55,376.26"/>
<path d="M354.52,377.01C355.77,377.26 359.54,377.64 362.05,378.52C364.56,379.39 367.07,380.77 369.58,382.28C372.09,383.79 374.85,386.8 377.1,387.55C379.36,388.3 380.62,387.3 383.13,386.8C385.64,386.3 389.28,385.04 392.16,384.54C395.05,384.04 397.43,384.16 400.45,383.79C403.46,383.41 407.35,382.73 410.23,382.28C413.12,381.83 415.05,381.08 417.76,381.08C420.47,381.08 423.74,381.7 426.5,382.28C429.26,382.86 431.52,383.79 434.33,384.54C437.14,385.29 440.35,386.22 443.36,386.8C446.37,387.37 449.89,388 452.4,388C454.91,388 456.16,388 458.42,386.8C460.68,385.59 463.44,382.33 465.95,380.77C468.46,379.22 471.27,378.16 473.48,377.46C475.69,376.76 478.25,376.71 479.2,376.56"/>
<path d="M502.87,377.01C504.12,377.26 507.89,377.64 510.4,378.52C512.91,379.39 515.42,380.77 517.93,382.28C520.44,383.79 523.2,386.8 525.45,387.55C527.71,388.3 528.97,387.3 531.48,386.8C533.99,386.3 537.63,385.04 540.51,384.54C543.4,384.04 545.78,384.16 548.8,383.79C551.81,383.41 555.7,382.73 558.58,382.28C561.47,381.83 563.4,381.08 566.11,381.08C568.82,381.08 572.09,381.7 574.85,382.28C577.61,382.86 579.87,383.79 582.68,384.54C585.49,385.29 588.7,386.22 591.71,386.8C594.72,387.37 598.24,388 600.75,388C603.26,388 604.51,388 606.77,386.8C609.03,385.59 611.79,382.33 614.3,380.77C616.81,379.22 619.62,378.16 621.83,377.46C624.04,376.76 626.6,376.71 627.55,376.56"/>
<path d="M354.52,376.56C356.78,376.96 363.8,378.57 368.07,378.97C372.34,379.37 376.85,378.67 380.12,378.97C383.38,379.27 385.14,380.02 387.65,380.77C390.16,381.53 393.04,382.88 395.17,383.48C397.31,384.09 397.43,384.09 400.45,384.39C403.46,384.69 408.9,385.34 413.24,385.29C417.59,385.24 422.48,384.59 426.5,384.09C430.51,383.59 434.03,382.83 437.34,382.28C440.65,381.73 443.36,381.33 446.37,380.77C449.38,380.22 451.89,379.47 455.41,378.97C458.92,378.47 463.49,378.11 467.45,377.76C471.42,377.41 477.24,377.01 479.2,376.86"/>
<path d="M502.87,376.56C505.13,376.96 512.15,378.57 516.42,378.97C520.69,379.37 525.2,378.67 528.47,378.97C531.73,379.27 533.49,380.02 536,380.77C538.51,381.53 541.39,382.88 543.52,383.48C545.66,384.09 545.78,384.09 548.8,384.39C551.81,384.69 557.25,385.34 561.59,385.29C565.94,385.24 570.83,384.59 574.85,384.09C578.86,383.59 582.38,382.83 585.69,382.28C589,381.73 591.71,381.33 594.72,380.77C597.73,380.22 600.24,379.47 603.76,378.97C607.27,378.47 611.84,378.11 615.8,377.76C619.77,377.41 625.59,377.01 627.55,376.86"/>
<path d="M354.52,376.72C355.52,376.94 358.53,377.27 360.54,378.07C362.55,378.88 364.56,380.08 366.56,381.54C368.57,382.99 370.71,385.05 372.59,386.81C374.47,388.56 375.6,389.99 377.86,392.08C380.12,394.16 383.5,396.85 386.14,399.31C388.78,401.76 391.28,405 393.67,406.83C396.05,408.67 398.19,409.97 400.45,410.3C402.7,410.62 405.09,409.19 407.22,408.79C409.35,408.39 410.03,408.04 413.24,407.89C416.46,407.74 421.98,407.99 426.5,407.89C431.01,407.79 435.53,407.96 440.35,407.29C445.17,406.61 450.89,405.28 455.41,403.82C459.93,402.37 463.49,399.93 467.45,398.55C471.42,397.17 477.24,396.04 479.2,395.54"/>
<path d="M502.87,376.72C503.87,376.94 506.88,377.27 508.89,378.07C510.9,378.88 512.91,380.08 514.91,381.54C516.92,382.99 519.06,385.05 520.94,386.81C522.82,388.56 523.95,389.99 526.21,392.08C528.47,394.16 531.85,396.85 534.49,399.31C537.13,401.76 539.63,405 542.02,406.83C544.4,408.67 546.54,409.97 548.8,410.3C551.05,410.62 553.44,409.19 555.57,408.79C557.7,408.39 558.38,408.04 561.59,407.89C564.81,407.74 570.33,407.99 574.85,407.89C579.36,407.79 583.88,407.96 588.7,407.29C593.52,406.61 599.24,405.28 603.76,403.82C608.28,402.37 611.84,399.93 615.8,398.55C619.77,397.17 625.59,396.04 627.55,395.54"/>
<path d="M354.52,395.24C356.02,394.84 360.54,393.58 363.55,392.83C366.56,392.08 370.08,390.82 372.59,390.72C375.1,390.62 376.6,391.25 378.61,392.23C380.62,393.21 382.12,394.41 384.63,396.59C387.14,398.78 391.03,403.45 393.67,405.33C396.3,407.21 397.68,408.32 400.45,407.89C403.21,407.46 407.35,404.78 410.23,402.77C413.12,400.76 415.5,397.85 417.76,395.84C420.02,393.83 422.33,391.78 423.79,390.72C425.24,389.67 425.49,389.47 426.5,389.52C427.5,389.57 428.25,389.77 429.81,391.02C431.37,392.28 433.82,395.67 435.83,397.05C437.84,398.43 439.85,399.31 441.86,399.31C443.86,399.31 445.62,398.3 447.88,397.05C450.14,395.79 453.15,392.78 455.41,391.78C457.67,390.77 458.92,390.7 461.43,391.02C463.94,391.35 467.51,393.03 470.47,393.73C473.43,394.44 477.74,394.99 479.2,395.24"/>
<path d="M502.87,395.24C504.37,394.84 508.89,393.58 511.9,392.83C514.91,392.08 518.43,390.82 520.94,390.72C523.45,390.62 524.95,391.25 526.96,392.23C528.97,393.21 530.47,394.41 532.98,396.59C535.49,398.78 539.38,403.45 542.02,405.33C544.65,407.21 546.03,408.32 548.8,407.89C551.56,407.46 555.7,404.78 558.58,402.77C561.47,400.76 563.85,397.85 566.11,395.84C568.37,393.83 570.68,391.78 572.14,390.72C573.59,389.67 573.84,389.47 574.85,389.52C575.85,389.57 576.6,389.77 578.16,391.02C579.72,392.28 582.17,395.67 584.18,397.05C586.19,398.43 588.2,399.31 590.21,399.31C592.21,399.31 593.97,398.3 596.23,397.05C598.49,395.79 601.5,392.78 603.76,391.78C606.02,390.77 607.27,390.7 609.78,391.02C612.29,391.35 615.86,393.03 618.82,393.73C621.78,394.44 626.09,394.99 627.55,395.24"/>
<path d="M354.52,395.24C356.27,395.92 360.79,397.75 365.06,399.31C369.32,400.86 375.1,403.2 380.12,404.58C385.14,405.96 391.79,407.04 395.17,407.59C398.56,408.14 399.57,407.84 400.45,407.89"/>
<path d="M502.87,395.24C504.62,395.92 509.14,397.75 513.41,399.31C517.67,400.86 523.45,403.2 528.47,404.58C533.49,405.96 540.14,407.04 543.52,407.59C546.91,408.14 547.92,407.84 548.8,407.89"/>
<path d="M426.5,383.49C428.3,383.87 434.03,385.13 437.34,385.75C440.65,386.38 443.36,386.63 446.37,387.26C449.38,387.89 452.4,388.64 455.41,389.52C458.42,390.4 460.48,391.58 464.44,392.53C468.41,393.48 476.74,394.79 479.2,395.24"/>
<path d="M574.85,383.49C576.65,383.87 582.38,385.13 585.69,385.75C589,386.38 591.71,386.63 594.72,387.26C597.73,387.89 600.75,388.64 603.76,389.52C606.77,390.4 608.83,391.58 612.79,392.53C616.76,393.48 625.09,394.79 627.55,395.24"/>
<path d="M354.52,415.87C356.27,416.12 361.54,416.5 365.06,417.38C368.57,418.25 372.34,419.81 375.6,421.14C378.86,422.47 381.62,424.23 384.63,425.36C387.65,426.49 391.03,427.36 393.67,427.92C396.3,428.47 397.18,428.54 400.45,428.67C403.71,428.79 409.86,429.05 413.24,428.67C416.63,428.29 418.57,427.21 420.77,426.41C422.98,425.61 424.24,423.98 426.5,423.85C428.76,423.72 431.52,424.98 434.33,425.66C437.14,426.34 439.85,427.79 443.36,427.92C446.88,428.04 451.39,427.29 455.41,426.41C459.42,425.53 463.49,423.52 467.45,422.65C471.42,421.77 477.24,421.39 479.2,421.14"/>
<path d="M502.87,415.87C504.62,416.12 509.89,416.5 513.41,417.38C516.92,418.25 520.69,419.81 523.95,421.14C527.21,422.47 529.97,424.23 532.98,425.36C536,426.49 539.38,427.36 542.02,427.92C544.65,428.47 545.53,428.54 548.8,428.67C552.06,428.79 558.21,429.05 561.59,428.67C564.98,428.29 566.92,427.21 569.12,426.41C571.33,425.61 572.59,423.98 574.85,423.85C577.11,423.72 579.87,424.98 582.68,425.66C585.49,426.34 588.2,427.79 591.71,427.92C595.23,428.04 599.74,427.29 603.76,426.41C607.77,425.53 611.84,423.52 615.8,422.65C619.77,421.77 625.59,421.39 627.55,421.14"/>
<path d="M380.12,430.17C381.37,429.37 385.39,427.24 387.65,425.36C389.9,423.47 391.54,420.46 393.67,418.88C395.8,417.3 398.19,416.2 400.45,415.87C402.7,415.54 404.84,416.17 407.22,416.92C409.61,417.68 412.49,419.31 414.75,420.39C417.01,421.47 418.82,422.72 420.77,423.4C422.73,424.08 424.74,424.83 426.5,424.45C428.25,424.08 429.51,422.07 431.31,421.14C433.12,420.21 435.33,418.93 437.34,418.88C439.35,418.83 441.35,419.71 443.36,420.84C445.37,421.97 447.38,424.35 449.38,425.66C451.39,426.96 454.4,428.17 455.41,428.67"/>
<path d="M528.47,430.17C529.72,429.37 533.74,427.24 536,425.36C538.25,423.47 539.89,420.46 542.02,418.88C544.15,417.3 546.54,416.2 548.8,415.87C551.05,415.54 553.19,416.17 555.57,416.92C557.96,417.68 560.84,419.31 563.1,420.39C565.36,421.47 567.17,422.72 569.12,423.4C571.08,424.08 573.09,424.83 574.85,424.45C576.6,424.08 577.86,422.07 579.66,421.14C581.47,420.21 583.68,418.93 585.69,418.88C587.7,418.83 589.7,419.71 591.71,420.84C593.72,421.97 595.73,424.35 597.73,425.66C599.74,426.96 602.75,428.17 603.76,428.67"/>
<path d="M354.52,421.14C356.27,421.52 361.54,422.45 365.06,423.4C368.57,424.35 372.09,425.98 375.6,426.86C379.11,427.74 382,428.57 386.14,428.67C390.28,428.77 395.93,427.84 400.45,427.46C404.96,427.09 409.86,426.91 413.24,426.41C416.63,425.91 418.57,424.88 420.77,424.45C422.98,424.03 425.54,423.95 426.5,423.85"/>
<path d="M502.87,421.14C504.62,421.52 509.89,422.45 513.41,423.4C516.92,424.35 520.44,425.98 523.95,426.86C527.46,427.74 530.35,428.57 534.49,428.67C538.63,428.77 544.28,427.84 548.8,427.46C553.31,427.09 558.21,426.91 561.59,426.41C564.98,425.91 566.92,424.88 569.12,424.45C571.33,424.03 573.89,423.95 574.85,423.85"/>
<path d="M354.52,465.56C356.27,465.19 361.8,464.68 365.06,463.3C368.32,461.92 371.33,459.54 374.09,457.28C376.85,455.02 378.86,452.14 381.62,449.75C384.38,447.37 387.52,444.61 390.66,442.97C393.79,441.34 397.18,440.72 400.45,439.96C403.71,439.21 407.1,439.08 410.23,438.46C413.37,437.83 416.56,437.08 419.27,436.2C421.98,435.32 423.99,434.44 426.5,433.19C429.01,431.93 432.02,429.8 434.33,428.67C436.64,427.54 438.34,427.11 440.35,426.41C442.36,425.71 443.86,425.33 446.37,424.45C448.88,423.57 451.89,422.32 455.41,421.14C458.92,419.96 463.49,418.25 467.45,417.38C471.42,416.5 477.24,416.12 479.2,415.87"/>
<path d="M502.87,465.56C504.62,465.19 510.15,464.68 513.41,463.3C516.67,461.92 519.68,459.54 522.44,457.28C525.2,455.02 527.21,452.14 529.97,449.75C532.73,447.37 535.87,444.61 539.01,442.97C542.14,441.34 545.53,440.72 548.8,439.96C552.06,439.21 555.45,439.08 558.58,438.46C561.72,437.83 564.91,437.08 567.62,436.2C570.33,435.32 572.34,434.44 574.85,433.19C577.36,431.93 580.37,429.8 582.68,428.67C584.99,427.54 586.69,427.11 588.7,426.41C590.71,425.71 592.21,425.33 594.72,424.45C597.23,423.57 600.24,422.32 603.76,421.14C607.27,419.96 611.84,418.25 615.8,417.38C619.77,416.5 625.59,416.12 627.55,415.87"/>
<path d="M354.52,430.17C356.27,430.12 360.79,430.07 365.06,429.87C369.32,429.67 374.22,429.17 380.12,428.97C386.01,428.77 394.92,428.77 400.45,428.67C405.97,428.57 408.9,428.37 413.24,428.37C417.59,428.37 421.98,428.49 426.5,428.67C431.01,428.84 435.53,429.17 440.35,429.42C445.17,429.67 448.93,430.05 455.41,430.17C461.88,430.3 475.24,430.17 479.2,430.17"/>
<path d="M502.87,430.17C504.62,430.12 509.14,430.07 513.41,429.87C517.67,429.67 522.57,429.17 528.47,428.97C534.36,428.77 543.27,428.77 548.8,428.67C554.32,428.57 557.25,428.37 561.59,428.37C565.94,428.37 570.33,428.49 574.85,428.67C579.36,428.84 583.88,429.17 588.7,429.42C593.52,429.67 597.28,430.05 603.76,430.17C610.23,430.3 623.59,430.17 627.55,430.17"/>
<path d="M354.52,463.3C356.02,462.8 360.79,461.55 363.55,460.29C366.31,459.04 368.82,457.28 371.08,455.77C373.34,454.27 375.35,453.52 377.1,451.26C378.86,449 379.87,444.73 381.62,442.22C383.38,439.71 385.39,437.7 387.65,436.2C389.9,434.69 393.04,433.81 395.17,433.19C397.31,432.56 397.94,432.68 400.45,432.43C402.96,432.18 407.1,431.68 410.23,431.68C413.37,431.68 416.56,432.18 419.27,432.43C421.98,432.68 423.99,432.68 426.5,433.19C429.01,433.69 431.52,434.94 434.33,435.45C437.14,435.95 440.35,435.32 443.36,436.2C446.37,437.08 449.89,438.71 452.4,440.72C454.91,442.72 456.41,445.74 458.42,448.24C460.43,450.75 462.44,453.52 464.44,455.77C466.45,458.03 468.01,460.42 470.47,461.8C472.93,463.18 477.74,463.68 479.2,464.06"/>
<path d="M502.87,463.3C504.37,462.8 509.14,461.55 511.9,460.29C514.66,459.04 517.17,457.28 519.43,455.77C521.69,454.27 523.7,453.52 525.45,451.26C527.21,449 528.22,444.73 529.97,442.22C531.73,439.71 533.74,437.7 536,436.2C538.25,434.69 541.39,433.81 543.52,433.19C545.66,432.56 546.29,432.68 548.8,432.43C551.31,432.18 555.45,431.68 558.58,431.68C561.72,431.68 564.91,432.18 567.62,432.43C570.33,432.68 572.34,432.68 574.85,433.19C577.36,433.69 579.87,434.94 582.68,435.45C585.49,435.95 588.7,435.32 591.71,436.2C594.72,437.08 598.24,438.71 600.75,440.72C603.26,442.72 604.76,445.74 606.77,448.24C608.78,450.75 610.79,453.52 612.79,455.77C614.8,458.03 616.36,460.42 618.82,461.8C621.28,463.18 626.09,463.68 627.55,464.06"/>
<path d="M354.52,455.77C355.77,455.52 359.54,455.15 362.05,454.27C364.56,453.39 367.32,452.01 369.58,450.5C371.83,449 373.84,446.86 375.6,445.23C377.36,443.6 378.36,442.02 380.12,440.72C381.87,439.41 383.88,438.16 386.14,437.4C388.4,436.65 391.28,436.4 393.67,436.2C396.05,436 397.18,436.32 400.45,436.2C403.71,436.07 409.61,435.57 413.24,435.45C416.88,435.32 420.07,435.57 422.28,435.45C424.49,435.32 424.49,434.32 426.5,434.69C428.5,435.07 431.52,436.57 434.33,437.7C437.14,438.83 439.85,440.21 443.36,441.47C446.88,442.72 451.39,444.35 455.41,445.23C459.42,446.11 463.49,446.49 467.45,446.74C471.42,446.99 477.24,446.74 479.2,446.74"/>
<path d="M502.87,455.77C504.12,455.52 507.89,455.15 510.4,454.27C512.91,453.39 515.67,452.01 517.93,450.5C520.18,449 522.19,446.86 523.95,445.23C525.71,443.6 526.71,442.02 528.47,440.72C530.22,439.41 532.23,438.16 534.49,437.4C536.75,436.65 539.63,436.4 542.02,436.2C544.4,436 545.53,436.32 548.8,436.2C552.06,436.07 557.96,435.57 561.59,435.45C565.23,435.32 568.42,435.57 570.63,435.45C572.84,435.32 572.84,434.32 574.85,434.69C576.85,435.07 579.87,436.57 582.68,437.7C585.49,438.83 588.2,440.21 591.71,441.47C595.23,442.72 599.74,444.35 603.76,445.23C607.77,446.11 611.84,446.49 615.8,446.74C619.77,446.99 625.59,446.74 627.55,446.74"/>
<path d="M354.52,442.22C356.27,442.35 361.54,442.6 365.06,442.97C368.57,443.35 372.34,444.1 375.6,444.48C378.86,444.86 380.49,445.23 384.63,445.23C388.78,445.23 395.68,444.86 400.45,444.48C405.21,444.1 409.86,443.73 413.24,442.97C416.63,442.22 418.57,440.97 420.77,439.96C422.98,438.96 424.24,436.95 426.5,436.95C428.76,436.95 431.52,438.96 434.33,439.96C437.14,440.97 439.85,442.3 443.36,442.97C446.88,443.65 451.39,443.95 455.41,444.03C459.42,444.1 463.49,443.6 467.45,443.43C471.42,443.25 477.24,443.05 479.2,442.97"/>
<path d="M502.87,442.22C504.62,442.35 509.89,442.6 513.41,442.97C516.92,443.35 520.69,444.1 523.95,444.48C527.21,444.86 528.84,445.23 532.98,445.23C537.13,445.23 544.03,444.86 548.8,444.48C553.56,444.1 558.21,443.73 561.59,442.97C564.98,442.22 566.92,440.97 569.12,439.96C571.33,438.96 572.59,436.95 574.85,436.95C577.11,436.95 579.87,438.96 582.68,439.96C585.49,440.97 588.2,442.3 591.71,442.97C595.23,443.65 599.74,443.95 603.76,444.03C607.77,444.1 611.84,443.6 615.8,443.43C619.77,443.25 625.59,443.05 627.55,442.97"/>
<path d="M354.52,446.74C356.27,446.79 360.79,446.91 365.06,447.04C369.32,447.17 374.22,447.42 380.12,447.49C386.01,447.57 394.92,447.37 400.45,447.49C405.97,447.62 408.9,447.87 413.24,448.24C417.59,448.62 421.98,449.63 426.5,449.75C431.01,449.88 435.53,449.37 440.35,449C445.17,448.62 448.93,447.87 455.41,447.49C461.88,447.12 475.24,446.86 479.2,446.74"/>
<path d="M502.87,446.74C504.62,446.79 509.14,446.91 513.41,447.04C517.67,447.17 522.57,447.42 528.47,447.49C534.36,447.57 543.27,447.37 548.8,447.49C554.32,447.62 557.25,447.87 561.59,448.24C565.94,448.62 570.33,449.63 574.85,449.75C579.36,449.88 583.88,449.37 588.7,449C593.52,448.62 597.28,447.87 603.76,447.49C610.23,447.12 623.59,446.86 627.55,446.74"/>
<path d="M354.52,451.26C355.77,451.13 359.54,451.13 362.05,450.5C364.56,449.88 367.07,448.75 369.58,447.49C372.09,446.24 374.85,444.35 377.1,442.97C379.36,441.59 380.87,440.46 383.13,439.21C385.39,437.96 387.77,436.45 390.66,435.45C393.54,434.44 398.81,433.56 400.45,433.19"/>
<path d="M502.87,451.26C504.12,451.13 507.89,451.13 510.4,450.5C512.91,449.88 515.42,448.75 517.93,447.49C520.44,446.24 523.2,444.35 525.45,442.97C527.71,441.59 529.22,440.46 531.48,439.21C533.74,437.96 536.12,436.45 539.01,435.45C541.89,434.44 547.16,433.56 548.8,433.19"/>
<path d="M354.52,456.08C356.27,456.15 361.29,456.33 365.06,456.53C368.82,456.73 373.09,456.78 377.1,457.28C381.12,457.78 385.26,458.91 389.15,459.54C393.04,460.17 396.43,461.17 400.45,461.04C404.46,460.92 409.86,459.92 413.24,458.79C416.63,457.66 418.57,455.77 420.77,454.27C422.98,452.76 424.49,449.88 426.5,449.75C428.5,449.63 430.51,452.26 432.82,453.52C435.13,454.77 437.09,456.9 440.35,457.28C443.61,457.66 448.38,456.23 452.4,455.77C456.41,455.32 459.98,454.82 464.44,454.57C468.91,454.32 476.74,454.32 479.2,454.27"/>
<path d="M502.87,456.08C504.62,456.15 509.64,456.33 513.41,456.53C517.17,456.73 521.44,456.78 525.45,457.28C529.47,457.78 533.61,458.91 537.5,459.54C541.39,460.17 544.78,461.17 548.8,461.04C552.81,460.92 558.21,459.92 561.59,458.79C564.98,457.66 566.92,455.77 569.12,454.27C571.33,452.76 572.84,449.88 574.85,449.75C576.85,449.63 578.86,452.26 581.17,453.52C583.48,454.77 585.44,456.9 588.7,457.28C591.96,457.66 596.73,456.23 600.75,455.77C604.76,455.32 608.33,454.82 612.79,454.57C617.26,454.32 625.09,454.32 627.55,454.27"/>
<path d="M400.45,448.24C402.08,449.12 407.35,452.26 410.23,453.52C413.12,454.77 415.05,455.52 417.76,455.77C420.47,456.03 423.74,455.77 426.5,455.02C429.26,454.27 431.52,452.14 434.33,451.26C437.14,450.38 439.85,449.75 443.36,449.75C446.88,449.75 451.39,450.63 455.41,451.26C459.42,451.88 463.49,453.01 467.45,453.52C471.42,454.02 477.24,454.14 479.2,454.27"/>
<path d="M548.8,448.24C550.43,449.12 555.7,452.26 558.58,453.52C561.47,454.77 563.4,455.52 566.11,455.77C568.82,456.03 572.09,455.77 574.85,455.02C577.61,454.27 579.87,452.14 582.68,451.26C585.49,450.38 588.2,449.75 591.71,449.75C595.23,449.75 599.74,450.63 603.76,451.26C607.77,451.88 611.84,453.01 615.8,453.52C619.77,454.02 625.59,454.14 627.55,454.27"/>
<path d="M354.52,463.3C356.27,463.05 361.8,462.75 365.06,461.8C368.32,460.84 371.33,458.59 374.09,457.58C376.85,456.58 379.11,455.82 381.62,455.77C384.13,455.72 386.01,456.03 389.15,457.28C392.29,458.53 396.93,461.67 400.45,463.3C403.96,464.93 407.1,466.57 410.23,467.07C413.37,467.57 416.56,466.94 419.27,466.31C421.98,465.69 423.99,464.31 426.5,463.3C429.01,462.3 431.52,460.79 434.33,460.29C437.14,459.79 439.85,460.04 443.36,460.29C446.88,460.54 451.39,461.3 455.41,461.8C459.42,462.3 463.49,462.93 467.45,463.3C471.42,463.68 477.24,463.93 479.2,464.06"/>
<path d="M502.87,463.3C504.62,463.05 510.15,462.75 513.41,461.8C516.67,460.84 519.68,458.59 522.44,457.58C525.2,456.58 527.46,455.82 529.97,455.77C532.48,455.72 534.36,456.03 537.5,457.28C540.64,458.53 545.28,461.67 548.8,463.3C552.31,464.93 555.45,466.57 558.58,467.07C561.72,467.57 564.91,466.94 567.62,466.31C570.33,465.69 572.34,464.31 574.85,463.3C577.36,462.3 579.87,460.79 582.68,460.29C585.49,459.79 588.2,460.04 591.71,460.29C595.23,460.54 599.74,461.3 603.76,461.8C607.77,462.3 611.84,462.93 615.8,463.3C619.77,463.68 625.59,463.93 627.55,464.06"/>
<path d="M354.52,469.36C356.27,469.49 360.79,470.24 365.06,470.12C369.32,469.99 374.22,468.99 380.12,468.61C386.01,468.23 394.92,467.73 400.45,467.86C405.97,467.98 408.9,468.86 413.24,469.36C417.59,469.87 421.98,470.74 426.5,470.87C431.01,471 435.53,470.37 440.35,470.12C445.17,469.87 450.89,469.36 455.41,469.36C459.93,469.36 463.49,469.87 467.45,470.12C471.42,470.37 477.24,470.74 479.2,470.87"/>
<path d="M502.87,469.36C504.62,469.49 509.14,470.24 513.41,470.12C517.67,469.99 522.57,468.99 528.47,468.61C534.36,468.23 543.27,467.73 548.8,467.86C554.32,467.98 557.25,468.86 561.59,469.36C565.94,469.87 570.33,470.74 574.85,470.87C579.36,471 583.88,470.37 588.7,470.12C593.52,469.87 599.24,469.36 603.76,469.36C608.28,469.36 611.84,469.87 615.8,470.12C619.77,470.37 625.59,470.74 627.55,470.87"/>
<path d="M354.52,472.38C356.27,472.3 360.79,472.17 365.06,471.92C369.32,471.67 374.22,471.05 380.12,470.87C386.01,470.69 394.92,470.69 400.45,470.87C405.97,471.05 408.9,471.67 413.24,471.92C417.59,472.17 421.98,472.3 426.5,472.38C431.01,472.45 435.53,472.45 440.35,472.38C445.17,472.3 450.89,471.92 455.41,471.92C459.93,471.92 463.49,472.22 467.45,472.38C471.42,472.53 477.24,472.75 479.2,472.83"/>
<path d="M502.87,472.38C504.62,472.3 509.14,472.17 513.41,471.92C517.67,471.67 522.57,471.05 528.47,470.87C534.36,470.69 543.27,470.69 548.8,470.87C554.32,471.05 557.25,471.67 561.59,471.92C565.94,472.17 570.33,472.3 574.85,472.38C579.36,472.45 583.88,472.45 588.7,472.38C593.52,472.3 599.24,471.92 603.76,471.92C608.28,471.92 611.84,472.22 615.8,472.38C619.77,472.53 625.59,472.75 627.55,472.83"/>
<path d="M479.3,333.8C483.22,333.8 498.88,333.8 502.8,333.8"/>
<path d="M479.3,333.8C483.22,333.85 498.88,334.05 502.8,334.1"/>
<path d="M479.3,351C483.22,351 498.88,351 502.8,351"/>
<path d="M479.3,353.7C483.22,353.7 498.88,353.7 502.8,353.7"/>
<path d="M479.3,376.3C483.22,376.3 498.88,376.3 502.8,376.3"/>
<path d="M479.3,376.6C483.22,376.6 498.88,376.6 502.8,376.6"/>
<path d="M479.3,376.9C483.22,376.87 498.88,376.73 502.8,376.7"/>
<path d="M479.3,376.9C483.22,376.92 498.88,376.98 502.8,377"/>
<path d="M479.3,395.2C483.22,395.2 498.88,395.2 502.8,395.2"/>
<path d="M479.3,395.5C483.22,395.45 498.88,395.25 502.8,395.2"/>
<path d="M479.3,415.9C483.22,415.9 498.88,415.9 502.8,415.9"/>
<path d="M479.3,421.1C483.22,421.1 498.88,421.1 502.8,421.1"/>
<path d="M479.3,430.2C483.22,430.2 498.88,430.2 502.8,430.2"/>
<path d="M479.3,443C483.22,442.87 498.88,442.33 502.8,442.2"/>
<path d="M479.3,446.7C483.22,446.7 498.88,446.7 502.8,446.7"/>
<path d="M479.3,454.3C483.22,453.8 498.88,451.8 502.8,451.3"/>
<path d="M479.3,454.3C483.22,454.55 498.88,455.55 502.8,455.8"/>
<path d="M479.3,454.3C483.22,454.6 498.88,455.8 502.8,456.1"/>
<path d="M479.3,464.1C483.22,463.97 498.88,463.43 502.8,463.3"/>
<path d="M479.3,464.1C483.22,464.35 498.88,465.35 502.8,465.6"/>
<path d="M479.3,470.9C483.22,470.65 498.88,469.65 502.8,469.4"/>
<path d="M479.3,472.8C483.22,472.73 498.88,472.47 502.8,472.4"/>
<path d="M354.52,476.14C355.77,475.76 359.03,474.89 362.05,473.88C365.06,472.88 369.07,471.75 372.59,470.12C376.1,468.49 379.61,465.85 383.13,464.09C386.64,462.34 390.78,460.58 393.67,459.58C396.56,458.57 397.68,458.45 400.45,458.07C403.21,457.69 407.35,458.07 410.23,457.32C413.12,456.56 415.75,454.93 417.76,453.55C419.77,452.17 420.82,450.04 422.28,449.03C423.74,448.03 424.99,447.53 426.5,447.53C428,447.53 429.51,447.91 431.31,449.03C433.12,450.16 435.33,452.05 437.34,454.31C439.35,456.56 441.35,459.95 443.36,462.59C445.37,465.22 447.38,467.86 449.38,470.12C451.39,472.38 452.9,473.88 455.41,476.14C457.92,478.4 461.68,481.16 464.44,483.67C467.2,486.18 469.51,489.12 471.97,491.2C474.43,493.28 478,495.34 479.2,496.17"/>
<path d="M354.52,496.17C355.77,494.71 359.54,490.52 362.05,487.43C364.56,484.35 367.07,480.91 369.58,477.65C372.09,474.38 374.6,470.87 377.1,467.86C379.61,464.85 382.12,462.21 384.63,459.58C387.14,456.94 389.53,454.31 392.16,452.05C394.8,449.79 397.43,447.91 400.45,446.02C403.46,444.14 407.1,442.26 410.23,440.75C413.37,439.25 416.56,437.87 419.27,436.99C421.98,436.11 425.29,435.73 426.5,435.48"/>
<path d="M354.52,496.17C356.27,494.34 361.54,488.51 365.06,485.17C368.57,481.84 372.09,478.65 375.6,476.14C379.11,473.63 382,471.87 386.14,470.12C390.28,468.36 395.93,466.85 400.45,465.6C404.96,464.34 409.86,464.34 413.24,462.59C416.63,460.83 418.57,457.32 420.77,455.06C422.98,452.8 424.24,448.78 426.5,449.03C428.76,449.29 431.52,453.8 434.33,456.56C437.14,459.32 439.85,462.59 443.36,465.6C446.88,468.61 451.39,471.37 455.41,474.63C459.42,477.9 463.49,481.59 467.45,485.17C471.42,488.76 477.24,494.34 479.2,496.17"/>
<path d="M354.52,496.17C356.27,494.84 361.54,490.65 365.06,488.19C368.57,485.73 371.83,483.22 375.6,481.41C379.36,479.6 383.5,478.22 387.65,477.34C391.79,476.47 396.18,476.39 400.45,476.14C404.71,475.89 408.9,475.96 413.24,475.84C417.59,475.71 421.98,475.34 426.5,475.39C431.01,475.44 436.03,475.46 440.35,476.14C444.67,476.82 448.38,477.7 452.4,479.45C456.41,481.21 460.93,484.47 464.44,486.68C467.96,488.89 471.02,491.12 473.48,492.7C475.94,494.29 478.25,495.59 479.2,496.17"/>
<path d="M502.8,483.67C503.93,482.97 507.19,481.34 509.58,479.45C511.96,477.57 514.6,474.94 517.1,472.38C519.61,469.82 521.87,466.98 524.63,464.09C527.39,461.21 530.91,457.57 533.67,455.06C536.43,452.55 538.69,450.54 541.2,449.03C543.71,447.53 545.97,447.4 548.73,446.02C551.49,444.64 554.5,442.26 557.76,440.75C561.03,439.25 565.47,437.87 568.3,436.99C571.14,436.11 573.7,435.73 574.78,435.48"/>
<path d="M502.8,485.17C504.43,484.42 509.2,482.29 512.59,480.66C515.98,479.03 519.36,477.27 523.13,475.39C526.89,473.5 530.91,471 535.17,469.36C539.44,467.73 544.21,466.73 548.73,465.6C553.24,464.47 558.89,464.34 562.28,462.59C565.67,460.83 566.97,457.32 569.06,455.06C571.14,452.8 572.52,448.78 574.78,449.03C577.04,449.29 579.8,453.8 582.61,456.56C585.42,459.32 588.13,462.71 591.64,465.6C595.16,468.49 599.67,471.37 603.69,473.88C607.71,476.39 611.72,478.9 615.74,480.66C619.75,482.41 625.78,483.79 627.78,484.42"/>
<path d="M502.8,485.93C504.43,485.55 509.2,484.55 512.59,483.67C515.98,482.79 519.36,481.71 523.13,480.66C526.89,479.6 530.91,478.1 535.17,477.34C539.44,476.59 544.21,476.39 548.73,476.14C553.24,475.89 557.94,475.96 562.28,475.84C566.62,475.71 570.39,475.34 574.78,475.39C579.17,475.44 584.32,475.56 588.63,476.14C592.95,476.72 596.66,477.72 600.68,478.85C604.69,479.98 608.21,481.74 612.73,482.92C617.24,484.1 625.27,485.43 627.78,485.93"/>
<path d="M502.8,476.14C504.05,475.76 507.32,474.89 510.33,473.88C513.34,472.88 517.36,471.75 520.87,470.12C524.38,468.49 527.9,465.85 531.41,464.09C534.92,462.34 539.07,460.58 541.95,459.58C544.84,458.57 545.97,458.45 548.73,458.07C551.49,457.69 555.63,458.07 558.52,457.32C561.4,456.56 564.04,454.93 566.04,453.55C568.05,452.17 569.11,450.04 570.56,449.03C572.02,448.03 573.27,447.53 574.78,447.53C576.28,447.53 577.79,447.91 579.6,449.03C581.4,450.16 583.61,452.05 585.62,454.31C587.63,456.56 589.64,459.95 591.64,462.59C593.65,465.22 595.66,467.98 597.67,470.12C599.67,472.25 601.18,473.63 603.69,475.39C606.2,477.14 608.71,479.28 612.73,480.66C616.74,482.04 625.27,483.17 627.78,483.67"/>
<path d="M354.52,502.49C355.27,502.87 357.28,503.5 359.03,504.75C360.79,506.01 362.8,507.89 365.06,510.02C367.32,512.15 370.08,515.29 372.59,517.55C375.1,519.81 377.36,521.57 380.12,523.57C382.88,525.58 385.76,528.47 389.15,529.6C392.54,530.73 397.81,531.23 400.45,530.35C403.08,529.47 403.58,528.09 404.96,524.33C406.34,520.56 407.8,513.53 408.73,507.76C409.66,501.99 410.03,494.46 410.53,489.69C411.04,484.92 411.04,481.41 411.74,479.15C412.44,476.89 414.25,476.64 414.75,476.14"/>
<path d="M440.35,476.14C441.1,476.69 443.66,477.45 444.87,479.45C446.07,481.46 446.77,484.72 447.58,488.19C448.38,491.65 448.76,496.72 449.69,500.23C450.61,503.75 451.69,506.96 453.15,509.27C454.61,511.58 456.54,513.71 458.42,514.09C460.3,514.46 462.44,512.96 464.44,511.53C466.45,510.1 468.46,507.08 470.47,505.5C472.47,503.92 475.03,502.67 476.49,502.04C477.95,501.41 478.75,501.79 479.2,501.74"/>
<path d="M479.2,501.74C480,502.12 482.18,503.24 483.98,504C485.78,504.75 487.99,505.5 490,506.26C492.01,507.01 493.89,507.96 496.02,508.52C498.16,509.07 501.67,509.39 502.8,509.57"/>
<path d="M479.2,496.17C480.25,495.46 483.18,493.41 485.48,491.95C487.78,490.5 490.13,488.81 493.01,487.43C495.9,486.05 501.17,484.3 502.8,483.67"/>
<path d="M479.2,496.17C480.25,495.59 483.18,493.91 485.48,492.7C487.78,491.5 490.13,490.07 493.01,488.94C495.9,487.81 501.17,486.43 502.8,485.93"/>
<path d="M502.8,509.57C503.93,509.9 507.19,510.07 509.58,511.53C511.96,512.98 514.34,516.04 517.1,518.3C519.87,520.56 523.13,522.82 526.14,525.08C529.15,527.34 531.41,529.97 535.17,531.86C538.94,533.74 545.46,537.63 548.73,536.37C551.99,535.12 553.12,529.1 554.75,524.33C556.38,519.56 557.64,513.28 558.52,507.76C559.39,502.24 559.59,495.72 560.02,491.2C560.45,486.68 560.45,483.17 561.08,480.66C561.7,478.15 561.58,477.09 563.79,476.14C565.99,475.19 572.57,475.14 574.33,474.94"/>
<path d="M586.37,475.84C587.38,476.14 590.89,476.34 592.4,477.65C593.9,478.95 594.61,480.66 595.41,483.67C596.21,486.68 596.59,491.95 597.22,495.72C597.84,499.48 598.34,503.37 599.17,506.26C600,509.14 600.8,511.28 602.18,513.03C603.56,514.79 605.57,516.42 607.45,516.8C609.34,517.17 611.22,516.17 613.48,515.29C615.74,514.41 618.62,512.48 621.01,511.53C623.39,510.57 626.65,509.9 627.78,509.57"/>
</g>
<line x1="354.7" y1="351.2" x2="362.2" y2="351.2" stroke="#000" stroke-width="1.4"/>
<line x1="354.7" y1="387.4" x2="362.2" y2="387.4" stroke="#000" stroke-width="1.4"/>
<line x1="354.7" y1="423.6" x2="362.2" y2="423.6" stroke="#000" stroke-width="1.4"/>
<line x1="354.7" y1="459.8" x2="362.2" y2="459.8" stroke="#000" stroke-width="1.4"/>
<line x1="354.7" y1="496" x2="362.2" y2="496" stroke="#000" stroke-width="1.4"/>
<line x1="354.7" y1="532.2" x2="362.2" y2="532.2" stroke="#000" stroke-width="1.4"/>
<rect x="354.7" y="314.9" width="273.1" height="227" fill="none" stroke="#222" stroke-width="1.4"/>
<text x="348.2" y="320.7" font-size="18.2" text-anchor="end">10</text>
<text x="348.2" y="356.9" font-size="18.2" text-anchor="end">8</text>
<text x="348.2" y="393.1" font-size="18.2" text-anchor="end">6</text>
<text x="348.2" y="429.3" font-size="18.2" text-anchor="end">4</text>
<text x="348.2" y="465.5" font-size="18.2" text-anchor="end">2</text>
<text x="348.2" y="501.7" font-size="18.2" text-anchor="end">0</text>
<text x="348.2" y="537.9" font-size="18.2" text-anchor="end">-2</text>
<text transform="translate(356.8,560.2) scale(1.22,1)" x="0" y="0" font-size="19.8" text-anchor="middle">Γ</text>
<text x="399.7" y="560.2" font-size="19" font-weight="bold" text-anchor="middle">M</text>
<text x="426.8" y="560.2" font-size="19" font-weight="bold" text-anchor="middle">K</text>
<text transform="translate(477.9,560.2) scale(1.22,1)" x="0" y="0" font-size="19.8" text-anchor="middle">Γ</text>
<text x="503.5" y="560.2" font-size="19" font-weight="bold" text-anchor="middle">A</text>
<text x="548.7" y="560.2" font-size="19" font-weight="bold" text-anchor="middle">L</text>
<text x="574.2" y="560.2" font-size="19" font-weight="bold" text-anchor="middle">H</text>
<text x="624.5" y="560.2" font-size="19" font-weight="bold" text-anchor="middle">A</text>
<clipPath id="cliph"><rect x="664.1" y="315.4" width="272.9" height="226.5"/></clipPath>
<line x1="709.7" y1="315.4" x2="709.7" y2="541.9" stroke="#cfcfcf" stroke-width="1" stroke-dasharray="2.9,1.3"/>
<line x1="735.3" y1="315.4" x2="735.3" y2="541.9" stroke="#cfcfcf" stroke-width="1" stroke-dasharray="2.9,1.3"/>
<line x1="788" y1="315.4" x2="788" y2="541.9" stroke="#cfcfcf" stroke-width="1" stroke-dasharray="2.9,1.3"/>
<line x1="812.3" y1="315.4" x2="812.3" y2="541.9" stroke="#cfcfcf" stroke-width="1" stroke-dasharray="2.9,1.3"/>
<line x1="857.5" y1="315.4" x2="857.5" y2="541.9" stroke="#cfcfcf" stroke-width="1" stroke-dasharray="2.9,1.3"/>
<line x1="883.8" y1="315.4" x2="883.8" y2="541.9" stroke="#cfcfcf" stroke-width="1" stroke-dasharray="2.9,1.3"/>
<line x1="664.1" y1="504" x2="937" y2="504" stroke="#cfcfcf" stroke-width="1" stroke-dasharray="3,2.2"/>
<g clip-path="url(#cliph)" fill="none" stroke="#0303fb" stroke-width="2.35" stroke-linejoin="round" stroke-linecap="round">
<path d="M664.22,337.1C666.02,337.31 671.24,337.68 675.06,338.31C678.87,338.94 683.09,340.12 687.1,340.87C691.12,341.62 695.01,342.4 699.15,342.83C703.29,343.25 709.82,343.33 711.95,343.43"/>
<path d="M664.22,337.56C666.02,337.86 671.49,338.31 675.06,339.36C678.62,340.42 682.34,342.3 685.6,343.88C688.86,345.46 691.62,347.52 694.63,348.85C697.65,350.18 700.78,351.23 703.67,351.86C706.56,352.49 710.57,352.49 711.95,352.62"/>
<path d="M664.22,353.97C666.02,354.05 670.74,354.35 675.06,354.42C679.38,354.5 685.6,354.5 690.12,354.42C694.63,354.35 698.52,354.1 702.16,353.97C705.8,353.84 710.32,353.72 711.95,353.67"/>
<path d="M664.22,358.94C665.27,359.32 668.48,359.94 670.54,361.2C672.6,362.45 674.56,364.46 676.56,366.47C678.57,368.48 680.58,370.99 682.59,373.24C684.6,375.5 686.6,378.14 688.61,380.02C690.62,381.9 692.38,383.41 694.63,384.54C696.89,385.67 699.28,386.37 702.16,386.8C705.05,387.22 710.32,387.05 711.95,387.1"/>
<path d="M664.22,378.52C665.52,378.64 669.49,378.77 672.05,379.27C674.61,379.77 677.07,380.65 679.58,381.53C682.09,382.41 684.6,383.53 687.1,384.54C689.61,385.54 692.12,386.67 694.63,387.55C697.14,388.43 699.28,388.98 702.16,389.81C705.05,390.64 710.32,392.07 711.95,392.52"/>
<path d="M664.22,383.79C666.02,383.99 671.24,384.36 675.06,384.99C678.87,385.62 683.59,386.87 687.1,387.55C690.62,388.23 692,388.81 696.14,389.06C700.28,389.31 709.32,389.06 711.95,389.06"/>
<path d="M664.22,384.54C665.52,384.79 669.49,385.47 672.05,386.04C674.61,386.62 676.56,387.12 679.58,388C682.59,388.88 686.85,390.26 690.12,391.31C693.38,392.37 695.51,393.45 699.15,394.33C702.79,395.21 709.82,396.21 711.95,396.59"/>
<path d="M664.22,398.25C665.77,398.05 670.74,396.87 673.55,397.05C676.36,397.22 678.57,398.05 681.08,399.31C683.59,400.56 686.1,402.69 688.61,404.58C691.12,406.46 693.63,408.72 696.14,410.6C698.65,412.48 701.03,414.61 703.67,415.87C706.3,417.12 710.57,417.75 711.95,418.13"/>
<path d="M664.22,398.55C666.02,398.8 671.75,399.05 675.06,400.06C678.37,401.06 681.08,402.94 684.09,404.58C687.1,406.21 690.12,408.59 693.13,409.85C696.14,411.1 699.03,411.85 702.16,412.1C705.3,412.36 710.32,411.48 711.95,411.35"/>
<path d="M664.22,420.39C666.02,420.46 671.49,420.34 675.06,420.84C678.62,421.34 682.34,422.34 685.6,423.4C688.86,424.45 691.87,426.03 694.63,427.16C697.39,428.29 699.28,429.37 702.16,430.17C705.05,430.98 710.32,431.68 711.95,431.98"/>
<path d="M664.22,421.14C666.02,421.52 671.24,422.27 675.06,423.4C678.87,424.53 683.59,426.66 687.1,427.92C690.62,429.17 692,430.1 696.14,430.93C700.28,431.76 709.32,432.56 711.95,432.89"/>
<path d="M690.12,434.69C691.12,433.94 693.88,431.68 696.14,430.17C698.4,428.67 701.03,426.91 703.67,425.66C706.3,424.4 710.57,423.15 711.95,422.65"/>
<path d="M664.22,428.67C666.02,429.05 670.74,430.17 675.06,430.93C679.38,431.68 685.6,432.86 690.12,433.19C694.63,433.51 698.52,433.01 702.16,432.89C705.8,432.76 710.32,432.51 711.95,432.43"/>
<path d="M889.84,344.18C892.1,343.76 899.13,342.43 903.4,341.62C907.66,340.82 911.43,340.07 915.44,339.36C919.46,338.66 923.9,337.78 927.49,337.41C931.08,337.03 935.4,337.16 936.98,337.1"/>
<path d="M889.84,353.37C891.35,352.87 895.62,351.81 898.88,350.36C902.14,348.9 905.91,346.34 909.42,344.63C912.93,342.93 916.7,341.25 919.96,340.12C923.22,338.99 926.16,338.31 929,337.86C931.83,337.41 935.65,337.48 936.98,337.41"/>
<path d="M889.84,353.67C892.6,353.72 901.14,353.92 906.41,353.97C911.68,354.02 916.37,353.97 921.47,353.97C926.56,353.97 934.39,353.97 936.98,353.97"/>
<path d="M889.84,384.54C891.35,384.54 896.12,384.71 898.88,384.54C901.64,384.36 904.15,384.61 906.41,383.48C908.67,382.36 910.42,379.97 912.43,377.76C914.44,375.55 916.45,372.62 918.45,370.23C920.46,367.85 922.47,365.21 924.48,363.46C926.49,361.7 928.42,360.45 930.5,359.69C932.58,358.94 935.9,359.07 936.98,358.94"/>
<path d="M889.84,388.6C892.1,388.18 899.13,386.97 903.4,386.04C907.66,385.12 911.68,384.04 915.44,383.03C919.21,382.03 922.4,380.77 925.98,380.02C929.57,379.27 935.14,378.77 936.98,378.52"/>
<path d="M889.84,384.99C892.1,385.29 899.13,386.75 903.4,386.8C907.66,386.85 911.43,385.79 915.44,385.29C919.46,384.79 923.9,384.09 927.49,383.79C931.08,383.48 935.4,383.53 936.98,383.48"/>
<path d="M889.84,393.12C892.1,392.44 899.13,390.11 903.4,389.06C907.66,388 911.43,387.42 915.44,386.8C919.46,386.17 923.9,385.67 927.49,385.29C931.08,384.92 935.4,384.66 936.98,384.54"/>
<path d="M889.84,394.34C892.1,393.78 899.13,392.08 903.4,391.02C907.66,389.97 911.43,388.89 915.44,388.01C919.46,387.13 923.9,386.25 927.49,385.75C931.08,385.25 935.4,385.13 936.98,385"/>
<path d="M889.84,409.85C891.1,409.72 894.86,409.72 897.37,409.09C899.88,408.47 902.39,407.34 904.9,406.08C907.41,404.83 909.67,402.94 912.43,401.56C915.19,400.18 918.71,398.6 921.47,397.8C924.23,397 926.41,396.92 929,396.75C931.58,396.57 935.65,396.75 936.98,396.75"/>
<path d="M889.84,412.41C891.35,412.1 896.12,411.45 898.88,410.6C901.64,409.75 903.65,408.67 906.41,407.29C909.17,405.91 912.43,403.65 915.44,402.32C918.45,400.99 920.89,399.98 924.48,399.31C928.07,398.63 934.89,398.43 936.98,398.25"/>
<path d="M889.84,430.48C891.35,430.05 895.62,428.97 898.88,427.92C902.14,426.86 905.66,425.33 909.42,424.15C913.18,422.97 916.87,421.72 921.47,420.84C926.06,419.96 934.39,419.21 936.98,418.88"/>
<path d="M889.84,427.62C891.1,427.54 895.11,426.74 897.37,427.16C899.63,427.59 900.89,429.17 903.4,430.17C905.91,431.18 909.42,432.31 912.43,433.19C915.44,434.07 917.38,434.94 921.47,435.45C925.56,435.95 934.39,436.07 936.98,436.2"/>
<path d="M889.84,431.98C892.1,431.68 899.13,430.98 903.4,430.17C907.66,429.37 911.43,428.04 915.44,427.16C919.46,426.28 923.9,425.36 927.49,424.9C931.08,424.45 935.4,424.53 936.98,424.45"/>
<path d="M889.84,433.94C892.6,434.07 901.14,434.32 906.41,434.69C911.68,435.07 916.37,435.82 921.47,436.2C926.56,436.57 934.39,436.83 936.98,436.95"/>
<path d="M664.22,436.95C666.02,437.03 670.74,437.4 675.06,437.4C679.38,437.4 685.6,437.15 690.12,436.95C694.63,436.75 698.83,436.45 702.16,436.2C705.5,435.95 706.63,435.45 710.14,435.45C713.66,435.45 719.05,435.82 723.24,436.2C727.44,436.57 730.77,437.58 735.29,437.7C739.81,437.83 745.33,437.08 750.35,436.95C755.37,436.83 759.18,436.95 765.41,436.95C771.63,436.95 783.98,436.95 787.69,436.95"/>
<path d="M812.52,436.95C814.32,437.03 819.04,437.4 823.36,437.4C827.68,437.4 833.9,437.15 838.42,436.95C842.93,436.75 847.13,436.45 850.46,436.2C853.8,435.95 854.93,435.45 858.44,435.45C861.96,435.45 867.35,435.82 871.54,436.2C875.74,436.57 879.07,437.58 883.59,437.7C888.11,437.83 893.63,437.08 898.65,436.95C903.67,436.83 907.48,436.95 913.71,436.95C919.93,436.95 932.28,436.95 935.99,436.95"/>
<path d="M664.22,451.29C666.02,451.37 671.75,451.87 675.06,451.75C678.37,451.62 681.08,451.12 684.09,450.54C687.1,449.96 690.12,449.03 693.13,448.28C696.14,447.53 699.33,446.65 702.16,446.02C705,445.4 707.13,445.14 710.14,444.52C713.16,443.89 717.3,443.01 720.23,442.26C723.17,441.51 725.25,440.63 727.76,440C730.27,439.37 732.53,438.37 735.29,438.49C738.05,438.62 741.31,439.75 744.33,440.75C747.34,441.76 750.35,443.14 753.36,444.52C756.37,445.9 759.38,447.91 762.4,449.03C765.41,450.16 767.22,450.79 771.43,451.29C775.65,451.8 784.98,451.92 787.69,452.05"/>
<path d="M812.52,451.29C814.32,451.37 820.05,451.87 823.36,451.75C826.67,451.62 829.38,451.12 832.39,450.54C835.4,449.96 838.42,449.03 841.43,448.28C844.44,447.53 847.63,446.65 850.46,446.02C853.3,445.4 855.43,445.14 858.44,444.52C861.46,443.89 865.6,443.01 868.53,442.26C871.47,441.51 873.55,440.63 876.06,440C878.57,439.37 880.83,438.37 883.59,438.49C886.35,438.62 889.61,439.75 892.63,440.75C895.64,441.76 898.65,443.14 901.66,444.52C904.67,445.9 907.68,447.91 910.7,449.03C913.71,450.16 915.52,450.79 919.73,451.29C923.95,451.8 933.28,451.92 935.99,452.05"/>
<path d="M664.22,453.55C666.02,453.6 670.74,453.98 675.06,453.85C679.38,453.73 685.6,453.23 690.12,452.8C694.63,452.37 698.83,451.67 702.16,451.29C705.5,450.92 706.63,450.92 710.14,450.54C713.66,450.16 719.05,449.54 723.24,449.03C727.44,448.53 731.28,447.4 735.29,447.53C739.31,447.65 743.32,448.91 747.34,449.79C751.35,450.67 755.37,452.17 759.38,452.8C763.4,453.43 766.71,453.48 771.43,453.55C776.15,453.63 784.98,453.3 787.69,453.25"/>
<path d="M812.52,453.55C814.32,453.6 819.04,453.98 823.36,453.85C827.68,453.73 833.9,453.23 838.42,452.8C842.93,452.37 847.13,451.67 850.46,451.29C853.8,450.92 854.93,450.92 858.44,450.54C861.96,450.16 867.35,449.54 871.54,449.03C875.74,448.53 879.58,447.4 883.59,447.53C887.61,447.65 891.62,448.91 895.64,449.79C899.65,450.67 903.67,452.17 907.68,452.8C911.7,453.43 915.01,453.48 919.73,453.55C924.45,453.63 933.28,453.3 935.99,453.25"/>
<path d="M664.22,455.06C666.02,455.31 671.24,456.56 675.06,456.56C678.87,456.56 683.34,455.81 687.1,455.06C690.87,454.31 693.81,452.93 697.65,452.05C701.49,451.17 705.88,449.66 710.14,449.79C714.41,449.91 719.05,451.92 723.24,452.8C727.44,453.68 731.28,454.93 735.29,455.06C739.31,455.18 743.32,453.55 747.34,453.55C751.35,453.55 754.87,454.68 759.38,455.06C763.9,455.43 769.72,455.81 774.44,455.81C779.16,455.81 785.49,455.18 787.69,455.06"/>
<path d="M812.52,455.06C814.32,455.31 819.54,456.56 823.36,456.56C827.17,456.56 831.64,455.81 835.4,455.06C839.17,454.31 842.11,452.93 845.95,452.05C849.79,451.17 854.18,449.66 858.44,449.79C862.71,449.91 867.35,451.92 871.54,452.8C875.74,453.68 879.58,454.93 883.59,455.06C887.61,455.18 891.62,453.55 895.64,453.55C899.65,453.55 903.17,454.68 907.68,455.06C912.2,455.43 918.02,455.81 922.74,455.81C927.46,455.81 933.79,455.18 935.99,455.06"/>
<path d="M664.22,460.33C665.52,460.08 669.49,459.7 672.05,458.82C674.61,457.94 677.07,456.69 679.58,455.06C682.09,453.43 684.6,451.04 687.1,449.03C689.61,447.03 692.12,444.77 694.63,443.01C697.14,441.25 699.58,439.62 702.16,438.49C704.75,437.36 706.63,436.74 710.14,436.24C713.66,435.73 719.05,435.23 723.24,435.48C727.44,435.73 731.28,437.49 735.29,437.74C739.31,437.99 743.32,436.36 747.34,436.99C751.35,437.62 755.87,439.5 759.38,441.51C762.9,443.51 765.41,446.53 768.42,449.03C771.43,451.54 774.24,454.68 777.45,456.56C780.67,458.45 785.99,459.7 787.69,460.33"/>
<path d="M812.52,460.33C813.82,460.08 817.79,459.7 820.35,458.82C822.91,457.94 825.37,456.69 827.88,455.06C830.39,453.43 832.9,451.04 835.4,449.03C837.91,447.03 840.42,444.77 842.93,443.01C845.44,441.25 847.88,439.62 850.46,438.49C853.05,437.36 854.93,436.74 858.44,436.24C861.96,435.73 867.35,435.23 871.54,435.48C875.74,435.73 879.58,437.49 883.59,437.74C887.61,437.99 891.62,436.36 895.64,436.99C899.65,437.62 904.17,439.5 907.68,441.51C911.2,443.51 913.71,446.53 916.72,449.03C919.73,451.54 922.54,454.68 925.75,456.56C928.97,458.45 934.29,459.7 935.99,460.33"/>
<path d="M664.22,470.12C665.52,469.87 669.49,469.61 672.05,468.61C674.61,467.61 677.07,465.85 679.58,464.09C682.09,462.34 684.6,460.08 687.1,458.07C689.61,456.06 692.12,453.8 694.63,452.05C697.14,450.29 699.58,448.78 702.16,447.53C704.75,446.27 707.13,444.27 710.14,444.52C713.16,444.77 717.3,447.28 720.23,449.03C723.17,450.79 725.25,452.8 727.76,455.06C730.27,457.32 732.53,460.71 735.29,462.59C738.05,464.47 741.31,465.1 744.33,466.35C747.34,467.61 750.35,469.11 753.36,470.12C756.37,471.12 758.88,472.12 762.4,472.38C765.91,472.63 770.23,472 774.44,471.62C778.66,471.25 785.49,470.37 787.69,470.12"/>
<path d="M812.52,470.12C813.82,469.87 817.79,469.61 820.35,468.61C822.91,467.61 825.37,465.85 827.88,464.09C830.39,462.34 832.9,460.08 835.4,458.07C837.91,456.06 840.42,453.8 842.93,452.05C845.44,450.29 847.88,448.78 850.46,447.53C853.05,446.27 855.43,444.27 858.44,444.52C861.46,444.77 865.6,447.28 868.53,449.03C871.47,450.79 873.55,452.8 876.06,455.06C878.57,457.32 880.83,460.71 883.59,462.59C886.35,464.47 889.61,465.1 892.63,466.35C895.64,467.61 898.65,469.11 901.66,470.12C904.67,471.12 907.18,472.12 910.7,472.38C914.21,472.63 918.53,472 922.74,471.62C926.96,471.25 933.79,470.37 935.99,470.12"/>
<path d="M664.22,466.35C666.02,466.23 671.75,466.23 675.06,465.6C678.37,464.97 681.58,463.59 684.09,462.59C686.6,461.58 687.61,458.82 690.12,459.58C692.63,460.33 695.81,465.35 699.15,467.1C702.49,468.86 706.63,469.74 710.14,470.12C713.66,470.49 717.3,470.12 720.23,469.36C723.17,468.61 725.25,466.73 727.76,465.6C730.27,464.47 732.78,463.84 735.29,462.59C737.8,461.33 740.31,459.58 742.82,458.07C745.33,456.56 747.84,454.81 750.35,453.55C752.86,452.3 755.37,450.29 757.88,450.54C760.39,450.79 762.65,453.05 765.41,455.06C768.17,457.07 770.73,460.71 774.44,462.59C778.16,464.47 785.49,465.72 787.69,466.35"/>
<path d="M812.52,466.35C814.32,466.23 820.05,466.23 823.36,465.6C826.67,464.97 829.88,463.59 832.39,462.59C834.9,461.58 835.91,458.82 838.42,459.58C840.93,460.33 844.11,465.35 847.45,467.1C850.79,468.86 854.93,469.74 858.44,470.12C861.96,470.49 865.6,470.12 868.53,469.36C871.47,468.61 873.55,466.73 876.06,465.6C878.57,464.47 881.08,463.84 883.59,462.59C886.1,461.33 888.61,459.58 891.12,458.07C893.63,456.56 896.14,454.81 898.65,453.55C901.16,452.3 903.67,450.29 906.18,450.54C908.69,450.79 910.95,453.05 913.71,455.06C916.47,457.07 919.03,460.71 922.74,462.59C926.46,464.47 933.79,465.72 935.99,466.35"/>
<path d="M664.22,476.89C666.02,476.64 670.74,475.89 675.06,475.39C679.38,474.89 684.27,473.88 690.12,473.88C695.96,473.88 704.62,475.01 710.14,475.39C715.67,475.76 719.05,476.14 723.24,476.14C727.44,476.14 731.28,475.26 735.29,475.39C739.31,475.51 742.82,476.52 747.34,476.89C751.86,477.27 757.88,477.39 762.4,477.65C766.91,477.9 770.23,478.1 774.44,478.4C778.66,478.7 785.49,479.28 787.69,479.45"/>
<path d="M812.52,476.89C814.32,476.64 819.04,475.89 823.36,475.39C827.68,474.89 832.57,473.88 838.42,473.88C844.26,473.88 852.92,475.01 858.44,475.39C863.97,475.76 867.35,476.14 871.54,476.14C875.74,476.14 879.58,475.26 883.59,475.39C887.61,475.51 891.12,476.52 895.64,476.89C900.16,477.27 906.18,477.39 910.7,477.65C915.21,477.9 918.53,478.1 922.74,478.4C926.96,478.7 933.79,479.28 935.99,479.45"/>
<path d="M664.22,482.16C666.02,481.79 671.24,480.53 675.06,479.9C678.87,479.28 683.09,478.78 687.1,478.4C691.12,478.02 695.31,477.65 699.15,477.65C702.99,477.65 706.13,478.1 710.14,478.4C714.16,478.7 719.05,479.45 723.24,479.45C727.44,479.45 730.77,478.32 735.29,478.4C739.81,478.47 745.33,479.53 750.35,479.9C755.37,480.28 760.89,480.73 765.41,480.66C769.93,480.58 773.74,479.65 777.45,479.45C781.17,479.25 785.99,479.45 787.69,479.45"/>
<path d="M812.52,482.16C814.32,481.79 819.54,480.53 823.36,479.9C827.17,479.28 831.39,478.78 835.4,478.4C839.42,478.02 843.61,477.65 847.45,477.65C851.29,477.65 854.43,478.1 858.44,478.4C862.46,478.7 867.35,479.45 871.54,479.45C875.74,479.45 879.07,478.32 883.59,478.4C888.11,478.47 893.63,479.53 898.65,479.9C903.67,480.28 909.19,480.73 913.71,480.66C918.23,480.58 922.04,479.65 925.75,479.45C929.47,479.25 934.29,479.45 935.99,479.45"/>
<path d="M710.14,455.06C711.32,456.06 715.04,459.32 717.22,461.08C719.41,462.84 721.74,465.6 723.24,465.6C724.75,465.6 724.75,462.71 726.26,461.08C727.76,459.45 730.77,456.82 732.28,455.81C733.79,454.81 734.04,455.06 735.29,455.06C736.55,455.06 738.05,454.81 739.81,455.81C741.57,456.82 743.82,458.95 745.83,461.08C747.84,463.21 749.6,466.35 751.86,468.61C754.11,470.87 756.62,473.25 759.38,474.63C762.15,476.01 763.7,476.52 768.42,476.89C773.14,477.27 784.48,476.89 787.69,476.89"/>
<path d="M858.44,455.06C859.62,456.06 863.34,459.32 865.52,461.08C867.71,462.84 870.04,465.6 871.54,465.6C873.05,465.6 873.05,462.71 874.56,461.08C876.06,459.45 879.07,456.82 880.58,455.81C882.09,454.81 882.34,455.06 883.59,455.06C884.85,455.06 886.35,454.81 888.11,455.81C889.87,456.82 892.12,458.95 894.13,461.08C896.14,463.21 897.9,466.35 900.16,468.61C902.41,470.87 904.92,473.25 907.68,474.63C910.45,476.01 912,476.52 916.72,476.89C921.44,477.27 932.78,476.89 935.99,476.89"/>
<path d="M664.22,459.58C666.02,459.83 671.24,460.2 675.06,461.08C678.87,461.96 683.09,463.59 687.1,464.85C691.12,466.1 695.31,467.73 699.15,468.61C702.99,469.49 708.31,469.87 710.14,470.12"/>
<path d="M812.52,459.58C814.32,459.83 819.54,460.2 823.36,461.08C827.17,461.96 831.39,463.59 835.4,464.85C839.42,466.1 843.61,467.73 847.45,468.61C851.29,469.49 856.61,469.87 858.44,470.12"/>
<path d="M664.22,452.05C667.28,452.1 674.93,452.35 682.59,452.35C690.24,452.35 701.36,452.05 710.14,452.05C718.93,452.05 726.08,452.3 735.29,452.35C744.5,452.4 756.67,452.4 765.41,452.35C774.14,452.3 783.98,452.1 787.69,452.05"/>
<path d="M812.52,452.05C815.58,452.1 823.23,452.35 830.89,452.35C838.54,452.35 849.66,452.05 858.44,452.05C867.23,452.05 874.38,452.3 883.59,452.35C892.8,452.4 904.97,452.4 913.71,452.35C922.44,452.3 932.28,452.1 935.99,452.05"/>
<path d="M664.22,453.85C667.28,453.9 674.93,454.08 682.59,454.15C690.24,454.23 701.36,454.33 710.14,454.31C718.93,454.28 726.08,454.08 735.29,454C744.5,453.93 756.67,453.88 765.41,453.85C774.14,453.83 783.98,453.85 787.69,453.85"/>
<path d="M812.52,453.85C815.58,453.9 823.23,454.08 830.89,454.15C838.54,454.23 849.66,454.33 858.44,454.31C867.23,454.28 874.38,454.08 883.59,454C892.8,453.93 904.97,453.88 913.71,453.85C922.44,453.83 932.28,453.85 935.99,453.85"/>
<path d="M788,437C792.05,437 808.25,437 812.3,437"/>
<path d="M788,452C792.05,451.88 808.25,451.42 812.3,451.3"/>
<path d="M788,452C792.05,452 808.25,452 812.3,452"/>
<path d="M788,453.3C792.05,453.35 808.25,453.55 812.3,453.6"/>
<path d="M788,453.9C792.05,453.9 808.25,453.9 812.3,453.9"/>
<path d="M788,455.1C792.05,455.1 808.25,455.1 812.3,455.1"/>
<path d="M788,460.3C792.05,460.18 808.25,459.72 812.3,459.6"/>
<path d="M788,460.3C792.05,460.3 808.25,460.3 812.3,460.3"/>
<path d="M788,466.4C792.05,466.4 808.25,466.4 812.3,466.4"/>
<path d="M788,470.1C792.05,470.1 808.25,470.1 812.3,470.1"/>
<path d="M788,476.9C792.05,476.9 808.25,476.9 812.3,476.9"/>
<path d="M788,479.5C792.05,479.07 808.25,477.33 812.3,476.9"/>
<path d="M788,479.5C792.05,479.95 808.25,481.75 812.3,482.2"/>
<path d="M664.22,504C665.77,502.12 670.24,495.72 673.55,492.7C676.87,489.69 680.33,487.43 684.09,485.93C687.86,484.42 691.8,483.79 696.14,483.67C700.48,483.54 706.13,485.12 710.14,485.17C714.16,485.23 717.3,484.67 720.23,483.97C723.17,483.27 725.25,481.64 727.76,480.96C730.27,480.28 734.04,480.08 735.29,479.9"/>
<path d="M664.22,504C665.52,501.99 669.24,495.84 672.05,491.95C674.86,488.06 678.07,483.92 681.08,480.66C684.09,477.39 687.1,474.89 690.12,472.38C693.13,469.87 695.81,467.73 699.15,465.6C702.49,463.47 706.63,461.33 710.14,459.58C713.66,457.82 717.3,456.82 720.23,455.06C723.17,453.3 725.25,450.54 727.76,449.03C730.27,447.53 734.04,446.53 735.29,446.02"/>
<path d="M664.22,504C666.27,501.61 672.25,493.96 676.56,489.69C680.88,485.43 685.85,481.16 690.12,478.4C694.38,475.64 698.83,474.13 702.16,473.13C705.5,472.12 706.63,472.5 710.14,472.38C713.66,472.25 719.05,473 723.24,472.38C727.44,471.75 731.78,468.61 735.29,468.61C738.81,468.61 741.31,470.87 744.33,472.38C747.34,473.88 749.85,475.51 753.36,477.65C756.88,479.78 761.39,482.29 765.41,485.17C769.42,488.06 773.74,491.83 777.45,494.96C781.17,498.1 785.99,502.49 787.69,504"/>
<path d="M787.69,504C786.49,502.62 782.68,498.6 780.47,495.72C778.26,492.83 776.45,489.69 774.44,486.68C772.44,483.67 770.43,480.66 768.42,477.65C766.41,474.63 764.4,471.37 762.4,468.61C760.39,465.85 758.38,463.34 756.37,461.08C754.37,458.82 752.61,457.07 750.35,455.06C748.09,453.05 745.33,450.54 742.82,449.03C740.31,447.53 736.55,446.53 735.29,446.02"/>
<path d="M787.69,504C785.99,502.37 780.67,497.1 777.45,494.21C774.24,491.32 771.43,488.44 768.42,486.68C765.41,484.92 762.4,484.3 759.38,483.67C756.37,483.04 752.86,483.37 750.35,482.92C747.84,482.46 746.84,481.46 744.33,480.96C741.82,480.46 736.8,480.08 735.29,479.9"/>
<path d="M664.22,518.3C665.52,518.93 668.98,520.86 672.05,522.07C675.11,523.27 678.82,525.15 682.59,525.53C686.35,525.91 690.87,524.9 694.63,524.33C698.4,523.75 702.41,522.7 705.17,522.07C707.94,521.44 709.69,521.94 711.2,520.56C712.7,519.18 713.41,517.17 714.21,513.79C715.01,510.4 715.46,504.5 716.02,500.23C716.57,495.97 716.82,490.95 717.52,488.19C718.23,485.43 718.53,484.92 720.23,483.67C721.94,482.41 725.25,481.28 727.76,480.66C730.27,480.03 732.53,479.85 735.29,479.9C738.05,479.95 741.57,480.21 744.33,480.96C747.09,481.71 749.97,482.72 751.86,484.42C753.74,486.13 754.62,488.06 755.62,491.2C756.62,494.34 757.13,499.23 757.88,503.24C758.63,507.26 759.13,512.15 760.14,515.29C761.14,518.43 762.27,520.69 763.9,522.07C765.53,523.45 767.67,523.82 769.93,523.57C772.18,523.32 774.95,521.44 777.45,520.56C779.96,519.68 783.28,518.73 784.98,518.3C786.69,517.88 785.94,517.75 787.69,518C789.45,518.25 792.71,519.01 795.52,519.81C798.34,520.61 801.8,522.07 804.56,522.82C807.32,523.57 810.83,524.08 812.09,524.33"/>
<path d="M787.69,504C789,502.99 792.71,499.73 795.52,497.97C798.34,496.22 801.8,494.46 804.56,493.46C807.32,492.45 810.83,492.2 812.09,491.95"/>
<path d="M787.69,504C789,503.12 792.71,500.23 795.52,498.73C798.34,497.22 801.8,495.77 804.56,494.96C807.32,494.16 810.83,494.08 812.09,493.91"/>
<path d="M812.29,491.95C813.93,491.32 818.69,489.32 822.08,488.19C825.47,487.06 828.86,485.93 832.62,485.17C836.39,484.42 840.53,483.72 844.67,483.67C848.81,483.62 853.7,484.82 857.47,484.87C861.23,484.92 864.12,484.62 867.26,483.97C870.39,483.32 873.53,481.64 876.29,480.96C879.05,480.28 882.57,480.08 883.82,479.9"/>
<path d="M812.29,493.91C813.67,492.7 817.69,489.27 820.58,486.68C823.46,484.1 826.6,480.91 829.61,478.4C832.62,475.89 835.63,473.88 838.65,471.62C841.66,469.36 844.54,466.85 847.68,464.85C850.82,462.84 854.21,461.21 857.47,459.58C860.73,457.94 864.12,456.82 867.26,455.06C870.39,453.3 873.53,450.54 876.29,449.03C879.05,447.53 882.57,446.53 883.82,446.02"/>
<path d="M812.29,492.7C814.43,491.45 820.7,487.68 825.09,485.17C829.49,482.67 834.38,479.65 838.65,477.65C842.91,475.64 847.56,474.01 850.69,473.13C853.83,472.25 853.96,472.5 857.47,472.38C860.98,472.25 867.38,473 871.77,472.38C876.17,471.75 880.31,468.61 883.82,468.61C887.33,468.61 889.84,470.87 892.86,472.38C895.87,473.88 898.38,475.76 901.89,477.65C905.4,479.53 909.92,481.66 913.94,483.67C917.95,485.68 922.14,488.19 925.98,489.69C929.82,491.2 935.14,492.2 936.98,492.7"/>
<path d="M936.98,493.46C935.65,492.83 931.33,491.32 929,489.69C926.66,488.06 924.98,485.93 922.97,483.67C920.96,481.41 918.96,478.65 916.95,476.14C914.94,473.63 912.93,471.12 910.93,468.61C908.92,466.1 906.91,463.34 904.9,461.08C902.89,458.82 901.14,457.07 898.88,455.06C896.62,453.05 893.86,450.54 891.35,449.03C888.84,447.53 885.08,446.53 883.82,446.02"/>
<path d="M936.98,491.95C935.14,491.57 929.32,490.7 925.98,489.69C922.65,488.69 919.96,486.93 916.95,485.93C913.94,484.92 910.93,484.17 907.91,483.67C904.9,483.17 901.39,483.37 898.88,482.92C896.37,482.46 895.37,481.46 892.86,480.96C890.35,480.46 885.33,480.08 883.82,479.9"/>
<path d="M810.79,524.33C812.42,524.58 817.19,525.26 820.58,525.83C823.96,526.41 827.35,527.39 831.12,527.79C834.88,528.19 839.4,528.32 843.16,528.24C846.93,528.17 850.82,527.79 853.7,527.34C856.59,526.89 858.77,526.66 860.48,525.53C862.19,524.4 863.07,523.02 863.94,520.56C864.82,518.1 865.25,514.41 865.75,510.77C866.25,507.14 866.53,502.49 866.96,498.73C867.38,494.96 867.63,490.57 868.31,488.19C868.99,485.8 869.44,485.23 871.02,484.42C872.6,483.62 875.66,483.59 877.8,483.37C879.93,483.14 881.31,483.02 883.82,483.07C886.33,483.12 890.22,483.19 892.86,483.67C895.49,484.15 897.75,484.67 899.63,485.93C901.51,487.18 903.02,488.31 904.15,491.2C905.28,494.08 905.66,499.23 906.41,503.24C907.16,507.26 907.66,512.15 908.67,515.29C909.67,518.43 910.8,520.51 912.43,522.07C914.06,523.62 916.2,524.45 918.45,524.63C920.71,524.8 923.47,523.67 925.98,523.12C928.49,522.57 931.68,521.69 933.51,521.31C935.35,520.94 936.4,520.94 936.98,520.86"/>
</g>
<rect x="710.5" y="316.2" width="180" height="120" fill="#fff"/>
<line x1="770.75" y1="332.5" x2="770.75" y2="401.25" stroke="#f01414" stroke-width="0.8" stroke-dasharray="2.5,2" stroke-linecap="round"/>
<line x1="843.75" y1="336.25" x2="843.75" y2="405" stroke="#f01414" stroke-width="0.8" stroke-dasharray="2.5,2" stroke-linecap="round"/>
<line x1="721.25" y1="415" x2="770.75" y2="401.25" stroke="#f01414" stroke-width="0.8" stroke-dasharray="2.5,2" stroke-linecap="round"/>
<line x1="770.75" y1="401.25" x2="843.75" y2="405" stroke="#f01414" stroke-width="0.8" stroke-dasharray="2.5,2" stroke-linecap="round"/>
<line x1="843.75" y1="405" x2="869.25" y2="420" stroke="#f01414" stroke-width="0.8" stroke-dasharray="2.5,2" stroke-linecap="round"/>
<clipPath id="hA"><polygon points="793.25,348.75 844.5,358 844.5,395 793.25,385.5"/></clipPath>
<g clip-path="url(#hA)" stroke="#555" stroke-width="0.5">
<line x1="762.8" y1="400" x2="814.8" y2="340"/>
<line x1="770.4" y1="400" x2="822.4" y2="340"/>
<line x1="778" y1="400" x2="830" y2="340"/>
<line x1="785.6" y1="400" x2="837.6" y2="340"/>
<line x1="793.2" y1="400" x2="845.2" y2="340"/>
<line x1="800.8" y1="400" x2="852.8" y2="340"/>
<line x1="808.4" y1="400" x2="860.4" y2="340"/>
<line x1="816" y1="400" x2="868" y2="340"/>
<line x1="823.6" y1="400" x2="875.6" y2="340"/>
<line x1="831.2" y1="400" x2="883.2" y2="340"/>
<line x1="838.8" y1="400" x2="890.8" y2="340"/>
<line x1="846.4" y1="400" x2="898.4" y2="340"/>
<line x1="854" y1="400" x2="906" y2="340"/>
<line x1="861.6" y1="400" x2="913.6" y2="340"/>
<line x1="869.2" y1="400" x2="921.2" y2="340"/>
<line x1="876.8" y1="400" x2="928.8" y2="340"/>
</g>
<clipPath id="hB"><polygon points="844.5,358 868,351.25 868,386.25 844.5,395"/></clipPath>
<g clip-path="url(#hB)" stroke="#555" stroke-width="0.5">
<line x1="840" y1="321.2" x2="872" y2="340.2"/>
<line x1="840" y1="329.6" x2="872" y2="348.6"/>
<line x1="840" y1="338" x2="872" y2="357"/>
<line x1="840" y1="346.4" x2="872" y2="365.4"/>
<line x1="840" y1="354.8" x2="872" y2="373.8"/>
<line x1="840" y1="363.2" x2="872" y2="382.2"/>
<line x1="840" y1="371.6" x2="872" y2="390.6"/>
<line x1="840" y1="380" x2="872" y2="399"/>
<line x1="840" y1="388.4" x2="872" y2="407.4"/>
<line x1="840" y1="396.8" x2="872" y2="415.8"/>
<line x1="840" y1="405.2" x2="872" y2="424.2"/>
<line x1="840" y1="413.6" x2="872" y2="432.6"/>
<line x1="840" y1="422" x2="872" y2="441"/>
<line x1="840" y1="430.4" x2="872" y2="449.4"/>
</g>
<clipPath id="hC"><polygon points="793.25,348.75 868,351.25 844.5,358"/></clipPath>
<g clip-path="url(#hC)" stroke="#555" stroke-width="0.5">
<line x1="802" y1="345" x2="802" y2="360"/>
<line x1="809.8" y1="345" x2="809.8" y2="360"/>
<line x1="817.6" y1="345" x2="817.6" y2="360"/>
<line x1="825.4" y1="345" x2="825.4" y2="360"/>
<line x1="833.2" y1="345" x2="833.2" y2="360"/>
<line x1="841" y1="345" x2="841" y2="360"/>
<line x1="848.8" y1="345" x2="848.8" y2="360"/>
<line x1="856.6" y1="345" x2="856.6" y2="360"/>
<line x1="864.4" y1="345" x2="864.4" y2="360"/>
<line x1="872.2" y1="345" x2="872.2" y2="360"/>
<line x1="880" y1="345" x2="880" y2="360"/>
<line x1="887.8" y1="345" x2="887.8" y2="360"/>
</g>
<line x1="721.25" y1="347" x2="770.75" y2="332.5" stroke="#f01414" stroke-width="1.5" stroke-linecap="round"/>
<line x1="770.75" y1="332.5" x2="843.75" y2="336.25" stroke="#f01414" stroke-width="1.5" stroke-linecap="round"/>
<line x1="843.75" y1="336.25" x2="869.25" y2="351.25" stroke="#f01414" stroke-width="1.5" stroke-linecap="round"/>
<line x1="869.25" y1="351.25" x2="817.5" y2="365.5" stroke="#f01414" stroke-width="1.5" stroke-linecap="round"/>
<line x1="817.5" y1="365.5" x2="745" y2="364.5" stroke="#f01414" stroke-width="1.5" stroke-linecap="round"/>
<line x1="745" y1="364.5" x2="721.25" y2="347" stroke="#f01414" stroke-width="1.5" stroke-linecap="round"/>
<line x1="721.25" y1="347" x2="721.25" y2="415" stroke="#f01414" stroke-width="1.5" stroke-linecap="round"/>
<line x1="745" y1="364.5" x2="745" y2="431.25" stroke="#f01414" stroke-width="1.5" stroke-linecap="round"/>
<line x1="817.5" y1="365.5" x2="817.5" y2="434.5" stroke="#f01414" stroke-width="1.5" stroke-linecap="round"/>
<line x1="869.25" y1="351.25" x2="869.25" y2="420" stroke="#f01414" stroke-width="1.5" stroke-linecap="round"/>
<line x1="721.25" y1="415" x2="745" y2="431.25" stroke="#f01414" stroke-width="1.5" stroke-linecap="round"/>
<line x1="745" y1="431.25" x2="817.5" y2="434.5" stroke="#f01414" stroke-width="1.5" stroke-linecap="round"/>
<line x1="817.5" y1="434.5" x2="869.25" y2="420" stroke="#f01414" stroke-width="1.5" stroke-linecap="round"/>
<line x1="793.25" y1="385.5" x2="868" y2="386.25" stroke="#56b088" stroke-width="1.0" stroke-dasharray="3,2" stroke-linecap="round"/>
<line x1="793.25" y1="348.75" x2="868" y2="351.25" stroke="#56b088" stroke-width="1.6" stroke-linecap="round"/>
<line x1="793.25" y1="348.75" x2="844.5" y2="358" stroke="#56b088" stroke-width="1.6" stroke-linecap="round"/>
<line x1="868" y1="351.25" x2="844.5" y2="358" stroke="#56b088" stroke-width="1.6" stroke-linecap="round"/>
<line x1="793.25" y1="348.75" x2="793.25" y2="385.5" stroke="#56b088" stroke-width="1.6" stroke-linecap="round"/>
<line x1="844.5" y1="358" x2="844.5" y2="395" stroke="#56b088" stroke-width="1.6" stroke-linecap="round"/>
<line x1="868" y1="351.25" x2="868" y2="386.25" stroke="#56b088" stroke-width="1.6" stroke-linecap="round"/>
<line x1="793.25" y1="385.5" x2="844.5" y2="395" stroke="#56b088" stroke-width="1.6" stroke-linecap="round"/>
<line x1="844.5" y1="395" x2="868" y2="386.25" stroke="#56b088" stroke-width="1.6" stroke-linecap="round"/>
<line x1="793.25" y1="348.75" x2="793.25" y2="323" stroke="#111" stroke-width="1.0" stroke-linecap="round"/>
<polygon points="793.25,318.5 795.05,323 791.45,323" fill="#111"/>
<line x1="793.25" y1="385.5" x2="771.74" y2="409.64" stroke="#111" stroke-width="1.0" stroke-linecap="round"/>
<polygon points="768.75,413 770.4,408.44 773.09,410.84" fill="#111"/>
<line x1="844.5" y1="395" x2="885.12" y2="404.48" stroke="#111" stroke-width="1.0" stroke-linecap="round"/>
<polygon points="889.5,405.5 884.71,406.23 885.53,402.72" fill="#111"/>
<text x="779.2" y="325.4" font-size="11.5" font-weight="bold" font-style="italic">c*</text>
<text x="771.5" y="420.5" font-size="11.5" font-weight="bold" font-style="italic">a*</text>
<text x="878.5" y="419.5" font-size="11.5" font-weight="bold" font-style="italic">b*</text>
<text x="782.3" y="355" font-size="12.5" font-weight="bold">A</text>
<text x="871" y="357.6" font-size="12.5" font-weight="bold">H</text>
<text x="846" y="368.8" font-size="12.5" font-weight="bold">L</text>
<text x="782.5" y="391.2" font-size="12.5" font-weight="bold">Γ</text>
<text x="871" y="392.2" font-size="12.5" font-weight="bold">K</text>
<text x="833.8" y="406.3" font-size="12.5" font-weight="bold">M</text>
<line x1="664.1" y1="353.2" x2="671.6" y2="353.2" stroke="#000" stroke-width="1.4"/>
<line x1="664.1" y1="390.9" x2="671.6" y2="390.9" stroke="#000" stroke-width="1.4"/>
<line x1="664.1" y1="428.6" x2="671.6" y2="428.6" stroke="#000" stroke-width="1.4"/>
<line x1="664.1" y1="466.3" x2="671.6" y2="466.3" stroke="#000" stroke-width="1.4"/>
<line x1="664.1" y1="504" x2="671.6" y2="504" stroke="#000" stroke-width="1.4"/>
<rect x="664.1" y="315.4" width="272.9" height="226.5" fill="none" stroke="#222" stroke-width="1.4"/>
<text x="657.6" y="321.2" font-size="18.2" text-anchor="end">10</text>
<text x="657.6" y="358.9" font-size="18.2" text-anchor="end">8</text>
<text x="657.6" y="396.6" font-size="18.2" text-anchor="end">6</text>
<text x="657.6" y="434.3" font-size="18.2" text-anchor="end">4</text>
<text x="657.6" y="472" font-size="18.2" text-anchor="end">2</text>
<text x="657.6" y="509.7" font-size="18.2" text-anchor="end">0</text>
<text x="657.6" y="547.4" font-size="18.2" text-anchor="end">-2</text>
<text transform="translate(666.5,560.5) scale(1.22,1)" x="0" y="0" font-size="19.8" text-anchor="middle">Γ</text>
<text x="709.1" y="560.5" font-size="19" font-weight="bold" text-anchor="middle">M</text>
<text x="735.6" y="560.5" font-size="19" font-weight="bold" text-anchor="middle">K</text>
<text transform="translate(786.6,560.5) scale(1.22,1)" x="0" y="0" font-size="19.8" text-anchor="middle">Γ</text>
<text x="813" y="560.5" font-size="19" font-weight="bold" text-anchor="middle">A</text>
<text x="857.5" y="560.5" font-size="19" font-weight="bold" text-anchor="middle">L</text>
<text x="883.2" y="560.5" font-size="19" font-weight="bold" text-anchor="middle">H</text>
<text x="933.7" y="560.5" font-size="19" font-weight="bold" text-anchor="middle">A</text>
</svg></body></html>
